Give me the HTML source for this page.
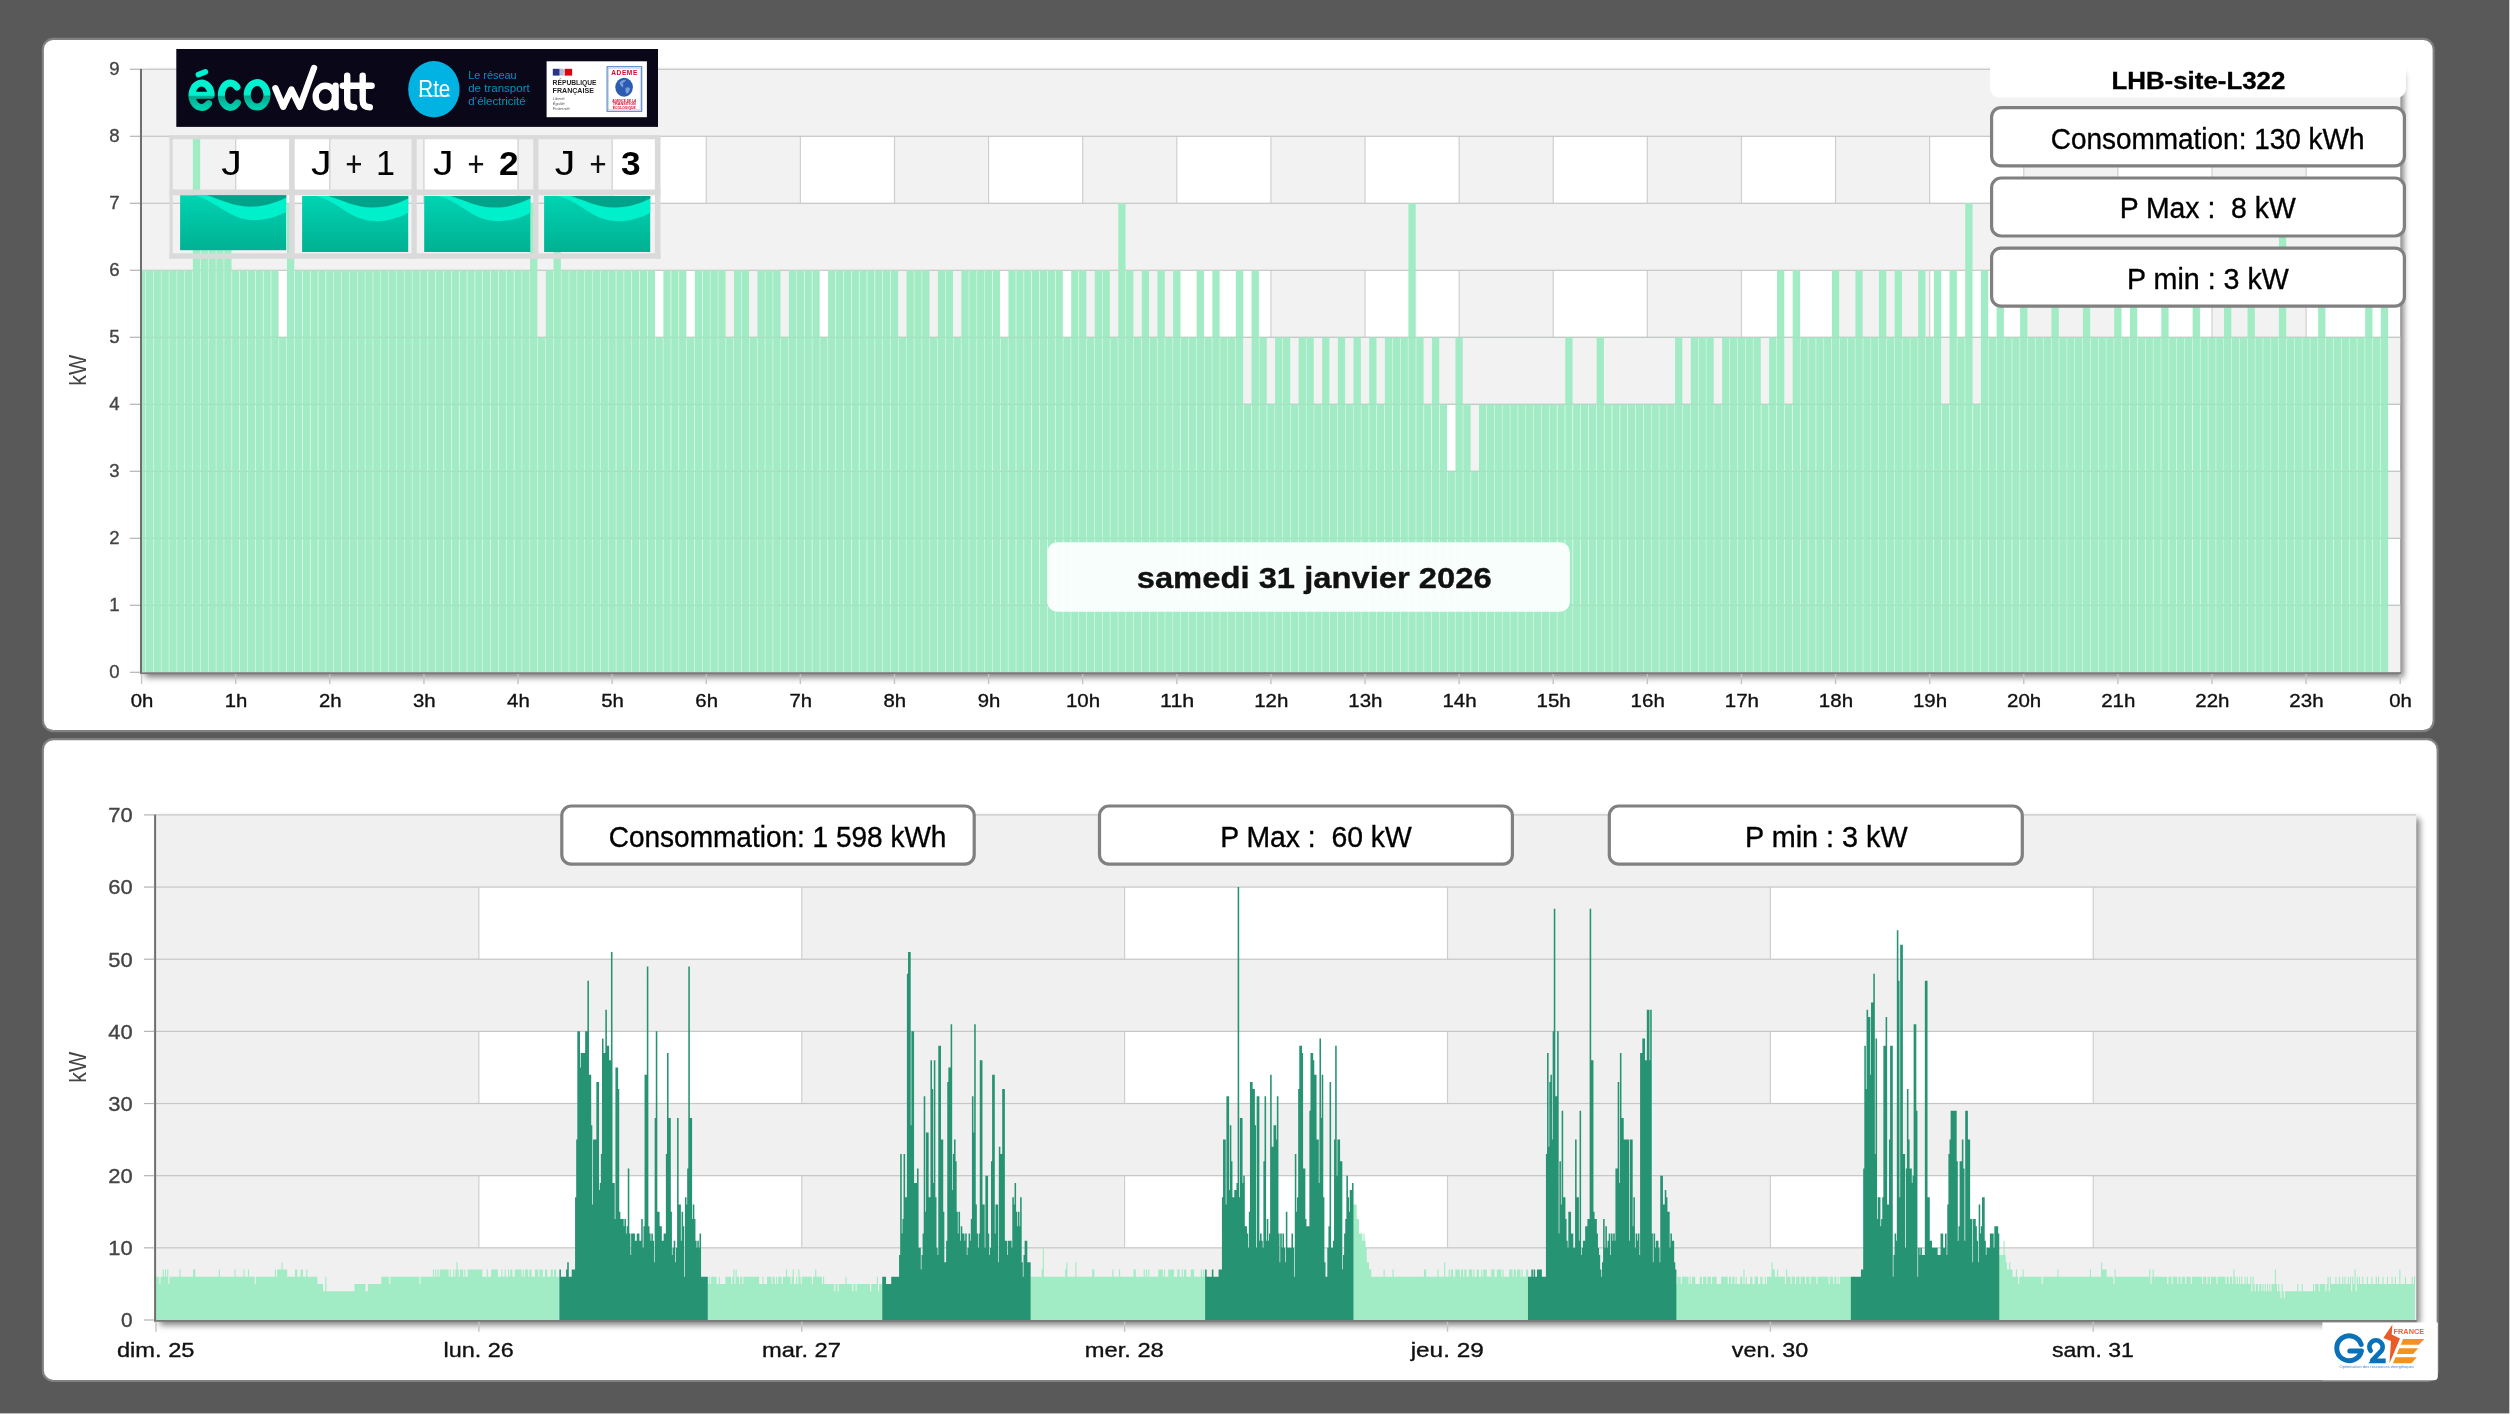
<!DOCTYPE html>
<html lang="fr"><head><meta charset="utf-8"><title>Suivi consommation</title>
<style>html,body{margin:0;padding:0;background:#fff;overflow:hidden}svg{display:block;will-change:transform;font-family:"Liberation Sans",sans-serif}text{font-family:"Liberation Sans",sans-serif}</style></head><body>
<svg width="2511" height="1415" viewBox="0 0 2511 1415">
<defs>
<clipPath id="ctop"><rect x="141.6" y="64.3" width="2258.6" height="608"/></clipPath>
<clipPath id="cbot"><rect x="156" y="809.9" width="2260.1" height="510.1"/></clipPath>
<linearGradient id="gtile" x1="0" y1="0" x2="0" y2="1"><stop offset="0" stop-color="#00d3b2"/><stop offset="1" stop-color="#00b192"/></linearGradient>
<linearGradient id="geco" x1="0" y1="0" x2="0" y2="1"><stop offset="0" stop-color="#00f2d0"/><stop offset="0.5" stop-color="#00efcd"/><stop offset="0.56" stop-color="#00a88e"/><stop offset="1" stop-color="#00cfae"/></linearGradient>
<filter id="sh" x="-2%" y="-5%" width="104%" height="110%"><feGaussianBlur stdDeviation="3.1"/></filter>
</defs>
<rect x="0" y="0" width="2509.3" height="1413.4" fill="#595959"/>
<rect x="41.8" y="37.8" width="2392.9" height="694.4" rx="11.6" fill="#818181"/>
<rect x="43.9" y="39.9" width="2388.7" height="690.2" rx="9.5" fill="#fff"/>
<rect x="41.8" y="738.1" width="2396.9" height="643.9" rx="11.6" fill="#818181"/>
<rect x="43.9" y="740.2" width="2392.7" height="639.7" rx="9.5" fill="#fff"/>
<rect x="145.2" y="72.9" width="2258.6" height="604.5" fill="#000" fill-opacity="0.5" filter="url(#sh)"/>
<rect x="141.6" y="69.3" width="2258.6" height="603" fill="#fff"/>
<rect x="141.6" y="69.3" width="94.11" height="603" fill="#f2f2f2"/>
<rect x="329.82" y="69.3" width="94.11" height="603" fill="#f2f2f2"/>
<rect x="518.03" y="69.3" width="94.11" height="603" fill="#f2f2f2"/>
<rect x="706.25" y="69.3" width="94.11" height="603" fill="#f2f2f2"/>
<rect x="894.47" y="69.3" width="94.11" height="603" fill="#f2f2f2"/>
<rect x="1082.68" y="69.3" width="94.11" height="603" fill="#f2f2f2"/>
<rect x="1270.9" y="69.3" width="94.11" height="603" fill="#f2f2f2"/>
<rect x="1459.12" y="69.3" width="94.11" height="603" fill="#f2f2f2"/>
<rect x="1647.33" y="69.3" width="94.11" height="603" fill="#f2f2f2"/>
<rect x="1835.55" y="69.3" width="94.11" height="603" fill="#f2f2f2"/>
<rect x="2023.77" y="69.3" width="94.11" height="603" fill="#f2f2f2"/>
<rect x="2211.98" y="69.3" width="94.11" height="603" fill="#f2f2f2"/>
<rect x="235.11" y="69.3" width="1.2" height="603" fill="#cfcfcf"/>
<rect x="329.22" y="69.3" width="1.2" height="603" fill="#cfcfcf"/>
<rect x="423.32" y="69.3" width="1.2" height="603" fill="#cfcfcf"/>
<rect x="517.43" y="69.3" width="1.2" height="603" fill="#cfcfcf"/>
<rect x="611.54" y="69.3" width="1.2" height="603" fill="#cfcfcf"/>
<rect x="705.65" y="69.3" width="1.2" height="603" fill="#cfcfcf"/>
<rect x="799.76" y="69.3" width="1.2" height="603" fill="#cfcfcf"/>
<rect x="893.87" y="69.3" width="1.2" height="603" fill="#cfcfcf"/>
<rect x="987.98" y="69.3" width="1.2" height="603" fill="#cfcfcf"/>
<rect x="1082.08" y="69.3" width="1.2" height="603" fill="#cfcfcf"/>
<rect x="1176.19" y="69.3" width="1.2" height="603" fill="#cfcfcf"/>
<rect x="1270.3" y="69.3" width="1.2" height="603" fill="#cfcfcf"/>
<rect x="1364.41" y="69.3" width="1.2" height="603" fill="#cfcfcf"/>
<rect x="1458.52" y="69.3" width="1.2" height="603" fill="#cfcfcf"/>
<rect x="1552.62" y="69.3" width="1.2" height="603" fill="#cfcfcf"/>
<rect x="1646.73" y="69.3" width="1.2" height="603" fill="#cfcfcf"/>
<rect x="1740.84" y="69.3" width="1.2" height="603" fill="#cfcfcf"/>
<rect x="1834.95" y="69.3" width="1.2" height="603" fill="#cfcfcf"/>
<rect x="1929.06" y="69.3" width="1.2" height="603" fill="#cfcfcf"/>
<rect x="2023.17" y="69.3" width="1.2" height="603" fill="#cfcfcf"/>
<rect x="2117.28" y="69.3" width="1.2" height="603" fill="#cfcfcf"/>
<rect x="2211.38" y="69.3" width="1.2" height="603" fill="#cfcfcf"/>
<rect x="2305.49" y="69.3" width="1.2" height="603" fill="#cfcfcf"/>
<rect x="141.6" y="605.3" width="2258.6" height="67" fill="#f2f2f2"/>
<rect x="141.6" y="471.3" width="2258.6" height="67" fill="#f2f2f2"/>
<rect x="141.6" y="337.3" width="2258.6" height="67" fill="#f2f2f2"/>
<rect x="141.6" y="203.3" width="2258.6" height="67" fill="#f2f2f2"/>
<rect x="141.6" y="69.3" width="2258.6" height="67" fill="#f2f2f2"/>
<rect x="141.6" y="604.7" width="2258.6" height="1.2" fill="#c6c6c6"/>
<rect x="141.6" y="537.7" width="2258.6" height="1.2" fill="#c6c6c6"/>
<rect x="141.6" y="470.7" width="2258.6" height="1.2" fill="#c6c6c6"/>
<rect x="141.6" y="403.7" width="2258.6" height="1.2" fill="#c6c6c6"/>
<rect x="141.6" y="336.7" width="2258.6" height="1.2" fill="#c6c6c6"/>
<rect x="141.6" y="269.7" width="2258.6" height="1.2" fill="#c6c6c6"/>
<rect x="141.6" y="202.7" width="2258.6" height="1.2" fill="#c6c6c6"/>
<rect x="141.6" y="135.7" width="2258.6" height="1.2" fill="#c6c6c6"/>
<rect x="141.6" y="68.7" width="2258.6" height="1.2" fill="#c6c6c6"/>
<g clip-path="url(#ctop)" fill="#a1ecc4">
<path d="M137.96 672.3V270.3H145.24V672.3ZM145.8 672.3V270.3H153.08V672.3ZM153.64 672.3V270.3H160.93V672.3ZM161.49 672.3V270.3H168.77V672.3ZM169.33 672.3V270.3H176.61V672.3ZM177.17 672.3V270.3H184.45V672.3ZM185.01 672.3V270.3H192.3V672.3ZM192.86 672.3V136.3H200.14V672.3ZM200.7 672.3V203.3H207.98V672.3ZM208.54 672.3V203.3H215.82V672.3ZM216.38 672.3V203.3H223.66V672.3ZM224.22 672.3V203.3H231.51V672.3ZM232.07 672.3V270.3H239.35V672.3ZM239.91 672.3V270.3H247.19V672.3ZM247.75 672.3V270.3H255.03V672.3ZM255.59 672.3V270.3H262.88V672.3ZM263.44 672.3V270.3H270.72V672.3ZM271.28 672.3V270.3H278.56V672.3ZM279.12 672.3V337.3H286.4V672.3ZM286.96 672.3V203.3H294.25V672.3ZM294.81 672.3V270.3H302.09V672.3ZM302.65 672.3V270.3H309.93V672.3ZM310.49 672.3V270.3H317.77V672.3ZM318.33 672.3V270.3H325.62V672.3ZM326.18 672.3V270.3H333.46V672.3ZM334.02 672.3V270.3H341.3V672.3ZM341.86 672.3V270.3H349.14V672.3ZM349.7 672.3V270.3H356.98V672.3ZM357.54 672.3V270.3H364.83V672.3ZM365.39 672.3V270.3H372.67V672.3ZM373.23 672.3V270.3H380.51V672.3ZM381.07 672.3V270.3H388.35V672.3ZM388.91 672.3V270.3H396.2V672.3ZM396.76 672.3V270.3H404.04V672.3ZM404.6 672.3V270.3H411.88V672.3ZM412.44 672.3V270.3H419.72V672.3ZM420.28 672.3V270.3H427.57V672.3ZM428.13 672.3V270.3H435.41V672.3ZM435.97 672.3V270.3H443.25V672.3ZM443.81 672.3V270.3H451.09V672.3ZM451.65 672.3V270.3H458.94V672.3ZM459.5 672.3V270.3H466.78V672.3ZM467.34 672.3V270.3H474.62V672.3ZM475.18 672.3V270.3H482.46V672.3ZM483.02 672.3V270.3H490.31V672.3ZM490.87 672.3V270.3H498.15V672.3ZM498.71 672.3V270.3H505.99V672.3ZM506.55 672.3V270.3H513.83V672.3ZM514.39 672.3V270.3H521.67V672.3ZM522.23 672.3V270.3H529.52V672.3ZM530.08 672.3V203.3H537.36V672.3ZM537.92 672.3V337.3H545.2V672.3ZM545.76 672.3V270.3H553.04V672.3ZM553.6 672.3V203.3H560.89V672.3ZM561.45 672.3V270.3H568.73V672.3ZM569.29 672.3V270.3H576.57V672.3ZM577.13 672.3V270.3H584.41V672.3ZM584.97 672.3V270.3H592.26V672.3ZM592.82 672.3V270.3H600.1V672.3ZM600.66 672.3V270.3H607.94V672.3ZM608.5 672.3V270.3H615.78V672.3ZM616.34 672.3V270.3H623.63V672.3ZM624.19 672.3V270.3H631.47V672.3ZM632.03 672.3V270.3H639.31V672.3ZM639.87 672.3V270.3H647.15V672.3ZM647.71 672.3V270.3H654.99V672.3ZM655.55 672.3V337.3H662.84V672.3ZM663.4 672.3V270.3H670.68V672.3ZM671.24 672.3V270.3H678.52V672.3ZM679.08 672.3V270.3H686.36V672.3ZM686.92 672.3V337.3H694.21V672.3ZM694.77 672.3V270.3H702.05V672.3ZM702.61 672.3V270.3H709.89V672.3ZM710.45 672.3V270.3H717.73V672.3ZM718.29 672.3V270.3H725.58V672.3ZM726.14 672.3V337.3H733.42V672.3ZM733.98 672.3V270.3H741.26V672.3ZM741.82 672.3V270.3H749.1V672.3ZM749.66 672.3V337.3H756.95V672.3ZM757.51 672.3V270.3H764.79V672.3ZM765.35 672.3V270.3H772.63V672.3ZM773.19 672.3V270.3H780.47V672.3ZM781.03 672.3V337.3H788.31V672.3ZM788.87 672.3V270.3H796.16V672.3ZM796.72 672.3V270.3H804V672.3ZM804.56 672.3V270.3H811.84V672.3ZM812.4 672.3V270.3H819.68V672.3ZM820.24 672.3V337.3H827.53V672.3ZM828.09 672.3V270.3H835.37V672.3ZM835.93 672.3V270.3H843.21V672.3ZM843.77 672.3V270.3H851.05V672.3ZM851.61 672.3V270.3H858.9V672.3ZM859.46 672.3V270.3H866.74V672.3ZM867.3 672.3V270.3H874.58V672.3ZM875.14 672.3V270.3H882.42V672.3ZM882.98 672.3V270.3H890.27V672.3ZM890.83 672.3V270.3H898.11V672.3ZM898.67 672.3V337.3H905.95V672.3ZM906.51 672.3V270.3H913.79V672.3ZM914.35 672.3V270.3H921.63V672.3ZM922.19 672.3V270.3H929.48V672.3ZM930.04 672.3V337.3H937.32V672.3ZM937.88 672.3V270.3H945.16V672.3ZM945.72 672.3V270.3H953V672.3ZM953.56 672.3V337.3H960.85V672.3ZM961.41 672.3V270.3H968.69V672.3ZM969.25 672.3V270.3H976.53V672.3ZM977.09 672.3V270.3H984.37V672.3ZM984.93 672.3V270.3H992.22V672.3ZM992.78 672.3V270.3H1000.06V672.3ZM1000.62 672.3V337.3H1007.9V672.3ZM1008.46 672.3V270.3H1015.74V672.3ZM1016.3 672.3V270.3H1023.59V672.3ZM1024.15 672.3V270.3H1031.43V672.3ZM1031.99 672.3V270.3H1039.27V672.3ZM1039.83 672.3V270.3H1047.11V672.3ZM1047.67 672.3V270.3H1054.96V672.3ZM1055.52 672.3V270.3H1062.8V672.3ZM1063.36 672.3V337.3H1070.64V672.3ZM1071.2 672.3V270.3H1078.48V672.3ZM1079.04 672.3V270.3H1086.32V672.3ZM1086.88 672.3V337.3H1094.17V672.3ZM1094.73 672.3V270.3H1102.01V672.3ZM1102.57 672.3V270.3H1109.85V672.3ZM1110.41 672.3V337.3H1117.69V672.3ZM1118.25 672.3V203.3H1125.54V672.3ZM1126.1 672.3V270.3H1133.38V672.3ZM1133.94 672.3V337.3H1141.22V672.3ZM1141.78 672.3V270.3H1149.06V672.3ZM1149.62 672.3V337.3H1156.91V672.3ZM1157.47 672.3V270.3H1164.75V672.3ZM1165.31 672.3V337.3H1172.59V672.3ZM1173.15 672.3V270.3H1180.43V672.3ZM1180.99 672.3V337.3H1188.28V672.3ZM1188.84 672.3V337.3H1196.12V672.3ZM1196.68 672.3V270.3H1203.96V672.3ZM1204.52 672.3V337.3H1211.8V672.3ZM1212.36 672.3V270.3H1219.64V672.3ZM1220.2 672.3V337.3H1227.49V672.3ZM1228.05 672.3V337.3H1235.33V672.3ZM1235.89 672.3V270.3H1243.17V672.3ZM1243.73 672.3V404.3H1251.01V672.3ZM1251.57 672.3V270.3H1258.86V672.3ZM1259.42 672.3V337.3H1266.7V672.3ZM1267.26 672.3V404.3H1274.54V672.3ZM1275.1 672.3V337.3H1282.38V672.3ZM1282.94 672.3V337.3H1290.23V672.3ZM1290.79 672.3V404.3H1298.07V672.3ZM1298.63 672.3V337.3H1305.91V672.3ZM1306.47 672.3V337.3H1313.75V672.3ZM1314.31 672.3V404.3H1321.6V672.3ZM1322.16 672.3V337.3H1329.44V672.3ZM1330 672.3V404.3H1337.28V672.3ZM1337.84 672.3V337.3H1345.12V672.3ZM1345.68 672.3V404.3H1352.96V672.3ZM1353.52 672.3V337.3H1360.81V672.3ZM1361.37 672.3V404.3H1368.65V672.3ZM1369.21 672.3V337.3H1376.49V672.3ZM1377.05 672.3V404.3H1384.33V672.3ZM1384.89 672.3V337.3H1392.18V672.3ZM1392.74 672.3V337.3H1400.02V672.3ZM1400.58 672.3V337.3H1407.86V672.3ZM1408.42 672.3V203.3H1415.7V672.3ZM1416.26 672.3V337.3H1423.55V672.3ZM1424.11 672.3V404.3H1431.39V672.3ZM1431.95 672.3V337.3H1439.23V672.3ZM1439.79 672.3V404.3H1447.07V672.3ZM1447.63 672.3V471.3H1454.92V672.3ZM1455.48 672.3V337.3H1462.76V672.3ZM1463.32 672.3V404.3H1470.6V672.3ZM1471.16 672.3V471.3H1478.44V672.3ZM1479 672.3V404.3H1486.28V672.3ZM1486.84 672.3V404.3H1494.13V672.3ZM1494.69 672.3V404.3H1501.97V672.3ZM1502.53 672.3V404.3H1509.81V672.3ZM1510.37 672.3V404.3H1517.65V672.3ZM1518.21 672.3V404.3H1525.5V672.3ZM1526.06 672.3V404.3H1533.34V672.3ZM1533.9 672.3V404.3H1541.18V672.3ZM1541.74 672.3V404.3H1549.02V672.3ZM1549.58 672.3V404.3H1556.87V672.3ZM1557.43 672.3V404.3H1564.71V672.3ZM1565.27 672.3V337.3H1572.55V672.3ZM1573.11 672.3V404.3H1580.39V672.3ZM1580.95 672.3V404.3H1588.24V672.3ZM1588.8 672.3V404.3H1596.08V672.3ZM1596.64 672.3V337.3H1603.92V672.3ZM1604.48 672.3V404.3H1611.76V672.3ZM1612.32 672.3V404.3H1619.61V672.3ZM1620.17 672.3V404.3H1627.45V672.3ZM1628.01 672.3V404.3H1635.29V672.3ZM1635.85 672.3V404.3H1643.13V672.3ZM1643.69 672.3V404.3H1650.97V672.3ZM1651.53 672.3V404.3H1658.82V672.3ZM1659.38 672.3V404.3H1666.66V672.3ZM1667.22 672.3V404.3H1674.5V672.3ZM1675.06 672.3V337.3H1682.34V672.3ZM1682.9 672.3V404.3H1690.19V672.3ZM1690.75 672.3V337.3H1698.03V672.3ZM1698.59 672.3V337.3H1705.87V672.3ZM1706.43 672.3V337.3H1713.71V672.3ZM1714.27 672.3V404.3H1721.56V672.3ZM1722.12 672.3V337.3H1729.4V672.3ZM1729.96 672.3V337.3H1737.24V672.3ZM1737.8 672.3V337.3H1745.08V672.3ZM1745.64 672.3V337.3H1752.93V672.3ZM1753.49 672.3V337.3H1760.77V672.3ZM1761.33 672.3V404.3H1768.61V672.3ZM1769.17 672.3V337.3H1776.45V672.3ZM1777.01 672.3V270.3H1784.29V672.3ZM1784.85 672.3V404.3H1792.14V672.3ZM1792.7 672.3V270.3H1799.98V672.3ZM1800.54 672.3V337.3H1807.82V672.3ZM1808.38 672.3V337.3H1815.66V672.3ZM1816.22 672.3V337.3H1823.51V672.3ZM1824.07 672.3V337.3H1831.35V672.3ZM1831.91 672.3V270.3H1839.19V672.3ZM1839.75 672.3V337.3H1847.03V672.3ZM1847.59 672.3V337.3H1854.88V672.3ZM1855.44 672.3V270.3H1862.72V672.3ZM1863.28 672.3V337.3H1870.56V672.3ZM1871.12 672.3V337.3H1878.4V672.3ZM1878.96 672.3V270.3H1886.25V672.3ZM1886.81 672.3V337.3H1894.09V672.3ZM1894.65 672.3V270.3H1901.93V672.3ZM1902.49 672.3V337.3H1909.77V672.3ZM1910.33 672.3V337.3H1917.61V672.3ZM1918.17 672.3V270.3H1925.46V672.3ZM1926.02 672.3V337.3H1933.3V672.3ZM1933.86 672.3V270.3H1941.14V672.3ZM1941.7 672.3V404.3H1948.98V672.3ZM1949.54 672.3V270.3H1956.83V672.3ZM1957.39 672.3V337.3H1964.67V672.3ZM1965.23 672.3V203.3H1972.51V672.3ZM1973.07 672.3V404.3H1980.35V672.3ZM1980.91 672.3V270.3H1988.2V672.3ZM1988.76 672.3V337.3H1996.04V672.3ZM1996.6 672.3V270.3H2003.88V672.3ZM2004.44 672.3V337.3H2011.72V672.3ZM2012.28 672.3V337.3H2019.57V672.3ZM2020.13 672.3V270.3H2027.41V672.3ZM2027.97 672.3V337.3H2035.25V672.3ZM2035.81 672.3V337.3H2043.09V672.3ZM2043.65 672.3V337.3H2050.93V672.3ZM2051.49 672.3V270.3H2058.78V672.3ZM2059.34 672.3V337.3H2066.62V672.3ZM2067.18 672.3V337.3H2074.46V672.3ZM2075.02 672.3V337.3H2082.3V672.3ZM2082.86 672.3V270.3H2090.15V672.3ZM2090.71 672.3V337.3H2097.99V672.3ZM2098.55 672.3V337.3H2105.83V672.3ZM2106.39 672.3V337.3H2113.67V672.3ZM2114.23 672.3V270.3H2121.52V672.3ZM2122.08 672.3V337.3H2129.36V672.3ZM2129.92 672.3V270.3H2137.2V672.3ZM2137.76 672.3V337.3H2145.04V672.3ZM2145.6 672.3V337.3H2152.89V672.3ZM2153.45 672.3V337.3H2160.73V672.3ZM2161.29 672.3V270.3H2168.57V672.3ZM2169.13 672.3V337.3H2176.41V672.3ZM2176.97 672.3V337.3H2184.26V672.3ZM2184.82 672.3V337.3H2192.1V672.3ZM2192.66 672.3V270.3H2199.94V672.3ZM2200.5 672.3V337.3H2207.78V672.3ZM2208.34 672.3V337.3H2215.62V672.3ZM2216.18 672.3V337.3H2223.47V672.3ZM2224.03 672.3V270.3H2231.31V672.3ZM2231.87 672.3V337.3H2239.15V672.3ZM2239.71 672.3V337.3H2246.99V672.3ZM2247.55 672.3V270.3H2254.84V672.3ZM2255.4 672.3V337.3H2262.68V672.3ZM2263.24 672.3V337.3H2270.52V672.3ZM2271.08 672.3V337.3H2278.36V672.3ZM2278.92 672.3V203.3H2286.21V672.3ZM2286.77 672.3V337.3H2294.05V672.3ZM2294.61 672.3V337.3H2301.89V672.3ZM2302.45 672.3V337.3H2309.73V672.3ZM2310.29 672.3V337.3H2317.58V672.3ZM2318.14 672.3V270.3H2325.42V672.3ZM2325.98 672.3V337.3H2333.26V672.3ZM2333.82 672.3V337.3H2341.1V672.3ZM2341.66 672.3V337.3H2348.94V672.3ZM2349.5 672.3V337.3H2356.79V672.3ZM2357.35 672.3V337.3H2364.63V672.3ZM2365.19 672.3V270.3H2372.47V672.3ZM2373.03 672.3V337.3H2380.31V672.3ZM2380.87 672.3V270.3H2388.16V672.3Z"/>
</g>
<rect x="141.6" y="604.7" width="2258.6" height="1.2" fill="#9fc9b4" opacity="0.25"/>
<rect x="141.6" y="537.7" width="2258.6" height="1.2" fill="#9fc9b4" opacity="0.25"/>
<rect x="141.6" y="470.7" width="2258.6" height="1.2" fill="#9fc9b4" opacity="0.25"/>
<rect x="141.6" y="403.7" width="2258.6" height="1.2" fill="#9fc9b4" opacity="0.25"/>
<rect x="141.6" y="336.7" width="2258.6" height="1.2" fill="#9fc9b4" opacity="0.25"/>
<rect x="140" y="68.8" width="2" height="605.1" fill="#6f6f6f"/>
<rect x="140" y="672.3" width="2261" height="1.8" fill="#7a7a7a"/>
<rect x="129.8" y="671.7" width="10.2" height="1.2" fill="#b4b4b4"/>
<text x="119.6" y="678" font-size="18.6" text-anchor="end" fill="#444" stroke="#444" stroke-width="0.35" >0</text>
<rect x="129.8" y="604.7" width="10.2" height="1.2" fill="#b4b4b4"/>
<text x="119.6" y="611" font-size="18.6" text-anchor="end" fill="#444" stroke="#444" stroke-width="0.35" >1</text>
<rect x="129.8" y="537.7" width="10.2" height="1.2" fill="#b4b4b4"/>
<text x="119.6" y="544" font-size="18.6" text-anchor="end" fill="#444" stroke="#444" stroke-width="0.35" >2</text>
<rect x="129.8" y="470.7" width="10.2" height="1.2" fill="#b4b4b4"/>
<text x="119.6" y="477" font-size="18.6" text-anchor="end" fill="#444" stroke="#444" stroke-width="0.35" >3</text>
<rect x="129.8" y="403.7" width="10.2" height="1.2" fill="#b4b4b4"/>
<text x="119.6" y="410" font-size="18.6" text-anchor="end" fill="#444" stroke="#444" stroke-width="0.35" >4</text>
<rect x="129.8" y="336.7" width="10.2" height="1.2" fill="#b4b4b4"/>
<text x="119.6" y="343" font-size="18.6" text-anchor="end" fill="#444" stroke="#444" stroke-width="0.35" >5</text>
<rect x="129.8" y="269.7" width="10.2" height="1.2" fill="#b4b4b4"/>
<text x="119.6" y="276" font-size="18.6" text-anchor="end" fill="#444" stroke="#444" stroke-width="0.35" >6</text>
<rect x="129.8" y="202.7" width="10.2" height="1.2" fill="#b4b4b4"/>
<text x="119.6" y="209" font-size="18.6" text-anchor="end" fill="#444" stroke="#444" stroke-width="0.35" >7</text>
<rect x="129.8" y="135.7" width="10.2" height="1.2" fill="#b4b4b4"/>
<text x="119.6" y="142" font-size="18.6" text-anchor="end" fill="#444" stroke="#444" stroke-width="0.35" >8</text>
<rect x="129.8" y="68.7" width="10.2" height="1.2" fill="#b4b4b4"/>
<text x="119.6" y="75" font-size="18.6" text-anchor="end" fill="#444" stroke="#444" stroke-width="0.35" >9</text>
<rect x="140.9" y="674.1" width="1.4" height="10" fill="#c4c4c4"/>
<text x="142" y="707.4" font-size="18.6" text-anchor="middle" fill="#111" textLength="22.6" lengthAdjust="spacingAndGlyphs" stroke="#111" stroke-width="0.35" >0h</text>
<rect x="235.01" y="674.1" width="1.4" height="10" fill="#c4c4c4"/>
<text x="236.11" y="707.4" font-size="18.6" text-anchor="middle" fill="#111" textLength="22.6" lengthAdjust="spacingAndGlyphs" stroke="#111" stroke-width="0.35" >1h</text>
<rect x="329.12" y="674.1" width="1.4" height="10" fill="#c4c4c4"/>
<text x="330.22" y="707.4" font-size="18.6" text-anchor="middle" fill="#111" textLength="22.6" lengthAdjust="spacingAndGlyphs" stroke="#111" stroke-width="0.35" >2h</text>
<rect x="423.22" y="674.1" width="1.4" height="10" fill="#c4c4c4"/>
<text x="424.32" y="707.4" font-size="18.6" text-anchor="middle" fill="#111" textLength="22.6" lengthAdjust="spacingAndGlyphs" stroke="#111" stroke-width="0.35" >3h</text>
<rect x="517.33" y="674.1" width="1.4" height="10" fill="#c4c4c4"/>
<text x="518.43" y="707.4" font-size="18.6" text-anchor="middle" fill="#111" textLength="22.6" lengthAdjust="spacingAndGlyphs" stroke="#111" stroke-width="0.35" >4h</text>
<rect x="611.44" y="674.1" width="1.4" height="10" fill="#c4c4c4"/>
<text x="612.54" y="707.4" font-size="18.6" text-anchor="middle" fill="#111" textLength="22.6" lengthAdjust="spacingAndGlyphs" stroke="#111" stroke-width="0.35" >5h</text>
<rect x="705.55" y="674.1" width="1.4" height="10" fill="#c4c4c4"/>
<text x="706.65" y="707.4" font-size="18.6" text-anchor="middle" fill="#111" textLength="22.6" lengthAdjust="spacingAndGlyphs" stroke="#111" stroke-width="0.35" >6h</text>
<rect x="799.66" y="674.1" width="1.4" height="10" fill="#c4c4c4"/>
<text x="800.76" y="707.4" font-size="18.6" text-anchor="middle" fill="#111" textLength="22.6" lengthAdjust="spacingAndGlyphs" stroke="#111" stroke-width="0.35" >7h</text>
<rect x="893.77" y="674.1" width="1.4" height="10" fill="#c4c4c4"/>
<text x="894.87" y="707.4" font-size="18.6" text-anchor="middle" fill="#111" textLength="22.6" lengthAdjust="spacingAndGlyphs" stroke="#111" stroke-width="0.35" >8h</text>
<rect x="987.88" y="674.1" width="1.4" height="10" fill="#c4c4c4"/>
<text x="988.98" y="707.4" font-size="18.6" text-anchor="middle" fill="#111" textLength="22.6" lengthAdjust="spacingAndGlyphs" stroke="#111" stroke-width="0.35" >9h</text>
<rect x="1081.98" y="674.1" width="1.4" height="10" fill="#c4c4c4"/>
<text x="1083.08" y="707.4" font-size="18.6" text-anchor="middle" fill="#111" textLength="34.2" lengthAdjust="spacingAndGlyphs" stroke="#111" stroke-width="0.35" >10h</text>
<rect x="1176.09" y="674.1" width="1.4" height="10" fill="#c4c4c4"/>
<text x="1177.19" y="707.4" font-size="18.6" text-anchor="middle" fill="#111" textLength="34.2" lengthAdjust="spacingAndGlyphs" stroke="#111" stroke-width="0.35" >11h</text>
<rect x="1270.2" y="674.1" width="1.4" height="10" fill="#c4c4c4"/>
<text x="1271.3" y="707.4" font-size="18.6" text-anchor="middle" fill="#111" textLength="34.2" lengthAdjust="spacingAndGlyphs" stroke="#111" stroke-width="0.35" >12h</text>
<rect x="1364.31" y="674.1" width="1.4" height="10" fill="#c4c4c4"/>
<text x="1365.41" y="707.4" font-size="18.6" text-anchor="middle" fill="#111" textLength="34.2" lengthAdjust="spacingAndGlyphs" stroke="#111" stroke-width="0.35" >13h</text>
<rect x="1458.42" y="674.1" width="1.4" height="10" fill="#c4c4c4"/>
<text x="1459.52" y="707.4" font-size="18.6" text-anchor="middle" fill="#111" textLength="34.2" lengthAdjust="spacingAndGlyphs" stroke="#111" stroke-width="0.35" >14h</text>
<rect x="1552.52" y="674.1" width="1.4" height="10" fill="#c4c4c4"/>
<text x="1553.62" y="707.4" font-size="18.6" text-anchor="middle" fill="#111" textLength="34.2" lengthAdjust="spacingAndGlyphs" stroke="#111" stroke-width="0.35" >15h</text>
<rect x="1646.63" y="674.1" width="1.4" height="10" fill="#c4c4c4"/>
<text x="1647.73" y="707.4" font-size="18.6" text-anchor="middle" fill="#111" textLength="34.2" lengthAdjust="spacingAndGlyphs" stroke="#111" stroke-width="0.35" >16h</text>
<rect x="1740.74" y="674.1" width="1.4" height="10" fill="#c4c4c4"/>
<text x="1741.84" y="707.4" font-size="18.6" text-anchor="middle" fill="#111" textLength="34.2" lengthAdjust="spacingAndGlyphs" stroke="#111" stroke-width="0.35" >17h</text>
<rect x="1834.85" y="674.1" width="1.4" height="10" fill="#c4c4c4"/>
<text x="1835.95" y="707.4" font-size="18.6" text-anchor="middle" fill="#111" textLength="34.2" lengthAdjust="spacingAndGlyphs" stroke="#111" stroke-width="0.35" >18h</text>
<rect x="1928.96" y="674.1" width="1.4" height="10" fill="#c4c4c4"/>
<text x="1930.06" y="707.4" font-size="18.6" text-anchor="middle" fill="#111" textLength="34.2" lengthAdjust="spacingAndGlyphs" stroke="#111" stroke-width="0.35" >19h</text>
<rect x="2023.07" y="674.1" width="1.4" height="10" fill="#c4c4c4"/>
<text x="2024.17" y="707.4" font-size="18.6" text-anchor="middle" fill="#111" textLength="34.2" lengthAdjust="spacingAndGlyphs" stroke="#111" stroke-width="0.35" >20h</text>
<rect x="2117.18" y="674.1" width="1.4" height="10" fill="#c4c4c4"/>
<text x="2118.28" y="707.4" font-size="18.6" text-anchor="middle" fill="#111" textLength="34.2" lengthAdjust="spacingAndGlyphs" stroke="#111" stroke-width="0.35" >21h</text>
<rect x="2211.28" y="674.1" width="1.4" height="10" fill="#c4c4c4"/>
<text x="2212.38" y="707.4" font-size="18.6" text-anchor="middle" fill="#111" textLength="34.2" lengthAdjust="spacingAndGlyphs" stroke="#111" stroke-width="0.35" >22h</text>
<rect x="2305.39" y="674.1" width="1.4" height="10" fill="#c4c4c4"/>
<text x="2306.49" y="707.4" font-size="18.6" text-anchor="middle" fill="#111" textLength="34.2" lengthAdjust="spacingAndGlyphs" stroke="#111" stroke-width="0.35" >23h</text>
<rect x="2399.5" y="674.1" width="1.4" height="10" fill="#c4c4c4"/>
<text x="2400.6" y="707.4" font-size="18.6" text-anchor="middle" fill="#111" textLength="22.6" lengthAdjust="spacingAndGlyphs" stroke="#111" stroke-width="0.35" >0h</text>
<text transform="translate(86.2 370.2) rotate(-90)" font-size="23.2" text-anchor="middle" fill="#444" textLength="31" lengthAdjust="spacingAndGlyphs">kW</text>
<g id="eco"><rect x="176.3" y="49" width="481.7" height="77.9" fill="#0a0818"/><g fill="none" stroke="url(#geco)" stroke-width="7" stroke-linecap="round" stroke-linejoin="round"><path d="M192.6 95.3H211.2A9.6 12.2 0 1 0 208.6 103.6"/><path d="M237 87A9 12.2 0 1 0 237.4 102.8"/><ellipse cx="257.1" cy="94.8" rx="9.9" ry="12.2"/></g><path d="M198.4 74.6L205.4 71.8" stroke="#00f2d0" stroke-width="5.6" stroke-linecap="round" fill="none"/><g fill="none" stroke="#fff" stroke-width="6.4" stroke-linecap="round" stroke-linejoin="round"><path d="M275.4 88.2L283.2 106.8L291.4 89.5L299.8 106.8L314 68"/><ellipse cx="325.3" cy="96.5" rx="9.6" ry="10.8"/><path d="M335.6 85.8V107.2"/><path d="M347.2 75.6V100.5Q347.2 107.2 354.2 107.2"/><path d="M362.7 75.6V100.5Q362.7 107.2 369.8 107.2"/><path d="M342.8 85.8H371.6"/></g><ellipse cx="433.9" cy="89.2" rx="25.7" ry="28.2" fill="#00b3e3"/><text x="434.3" y="96.6" font-size="24.5" text-anchor="middle" fill="#fff" textLength="32" lengthAdjust="spacingAndGlyphs">Rte</text><rect x="419" y="95.3" width="31" height="1.2" fill="#fff" opacity="0.9"/><text x="468.2" y="79.2" font-size="11.6" fill="#0091c6" textLength="48.5" lengthAdjust="spacingAndGlyphs">Le réseau</text><text x="468.2" y="92.3" font-size="11.6" fill="#0091c6" textLength="61.5" lengthAdjust="spacingAndGlyphs">de transport</text><text x="468.2" y="105.4" font-size="11.6" fill="#0091c6" textLength="57.5" lengthAdjust="spacingAndGlyphs">d’électricité</text><rect x="546.6" y="61.3" width="100.3" height="55.9" fill="#fff"/><rect x="552.8" y="68.8" width="6.8" height="6.8" fill="#28348a"/><rect x="564.7" y="68.8" width="7.4" height="6.8" fill="#e1000f"/><path d="M559.6 68.8h3.5l1.6 2.2l-1.2 2.2l1.2 2.4h-5.1z" fill="#7a80b5" opacity="0.55"/><text x="552.6" y="84.7" font-size="8.1" font-weight="bold" fill="#1e1e1e" textLength="44" lengthAdjust="spacingAndGlyphs">RÉPUBLIQUE</text><text x="552.6" y="92.9" font-size="8.1" font-weight="bold" fill="#1e1e1e" textLength="41.3" lengthAdjust="spacingAndGlyphs">FRANÇAISE</text><text x="552.8" y="100.3" font-size="4.2" font-style="italic" fill="#555" textLength="12" lengthAdjust="spacingAndGlyphs">Liberté</text><text x="552.8" y="105.3" font-size="4.2" font-style="italic" fill="#555" textLength="12" lengthAdjust="spacingAndGlyphs">Égalité</text><text x="552.8" y="110.3" font-size="4.2" font-style="italic" fill="#555" textLength="17" lengthAdjust="spacingAndGlyphs">Fraternité</text><rect x="607.1" y="66.7" width="34.6" height="44.6" fill="#fff" stroke="#4f7fc4" stroke-width="1.1"/><rect x="608.6" y="68.2" width="31.6" height="41.6" fill="none" stroke="#a9c0e3" stroke-width="0.6"/><text x="624.3" y="74.9" font-size="6.6" font-weight="bold" text-anchor="middle" fill="#e4032e" textLength="26" lengthAdjust="spacing">ADEME</text><ellipse cx="624.1" cy="87.3" rx="8.8" ry="9.5" fill="#2c5cb2"/><path d="M619.5 82.5q3-3.5 6.5-2.5q-1.5 2.5-3.5 3q1.5 2 .5 4.5q-2.5-1-3.5-5z M625.5 88q3-1.5 4.5 .5q-.5 4-3.5 5.5q-1.5-3-1-6z" fill="#8fb0e0" opacity="0.8"/><text x="624.3" y="101.7" font-size="3" font-weight="bold" text-anchor="middle" fill="#e4032e" textLength="24" lengthAdjust="spacingAndGlyphs">AGENCE DE LA</text><text x="624.3" y="105.4" font-size="3" font-weight="bold" text-anchor="middle" fill="#e4032e" textLength="23" lengthAdjust="spacingAndGlyphs">TRANSITION</text><text x="624.3" y="109.1" font-size="3" font-weight="bold" text-anchor="middle" fill="#e4032e" textLength="23" lengthAdjust="spacingAndGlyphs">ÉCOLOGIQUE</text><g fill="#dadada"><rect x="169.5" y="135.3" width="491" height="4"/><rect x="169.5" y="253.3" width="491" height="5.5"/><rect x="169.5" y="135.3" width="3.2" height="123.5"/><rect x="654.9" y="135.3" width="5.6" height="123.5"/><rect x="289.1" y="135.3" width="5.6" height="123.5"/><rect x="411.5" y="135.3" width="5.2" height="123.5"/><rect x="533.2" y="135.3" width="5.2" height="123.5"/><rect x="169.5" y="189.5" width="491" height="5.8"/></g><g transform="translate(180.1 195.3) scale(1 0.98)"><rect width="106.1" height="56" fill="url(#gtile)"/><path d="M13.2 0C31 3 44 19 62 23.6C76 27.2 92 24.5 106.1 16.7V0Z" fill="#00f0cc"/><path d="M26.6 0C40 4 52 11.2 70 11.6C84 11.9 96 7.5 106.1 2.6V0Z" fill="#00a389"/></g><g transform="translate(302.1 196) scale(1 1)"><rect width="106.1" height="56" fill="url(#gtile)"/><path d="M13.2 0C31 3 44 19 62 23.6C76 27.2 92 24.5 106.1 16.7V0Z" fill="#00f0cc"/><path d="M26.6 0C40 4 52 11.2 70 11.6C84 11.9 96 7.5 106.1 2.6V0Z" fill="#00a389"/></g><g transform="translate(424.2 196) scale(1 1)"><rect width="106.1" height="56" fill="url(#gtile)"/><path d="M13.2 0C31 3 44 19 62 23.6C76 27.2 92 24.5 106.1 16.7V0Z" fill="#00f0cc"/><path d="M26.6 0C40 4 52 11.2 70 11.6C84 11.9 96 7.5 106.1 2.6V0Z" fill="#00a389"/></g><g transform="translate(544.1 196) scale(1 1)"><rect width="106.1" height="56" fill="url(#gtile)"/><path d="M13.2 0C31 3 44 19 62 23.6C76 27.2 92 24.5 106.1 16.7V0Z" fill="#00f0cc"/><path d="M26.6 0C40 4 52 11.2 70 11.6C84 11.9 96 7.5 106.1 2.6V0Z" fill="#00a389"/></g><text x="231.5" y="175" font-size="34.3" text-anchor="middle" fill="#000" textLength="20.6" lengthAdjust="spacingAndGlyphs">J</text><text x="321.2" y="175" font-size="34.3" text-anchor="middle" fill="#000" textLength="20.6" lengthAdjust="spacingAndGlyphs">J</text><rect x="346.8" y="163" width="14.2" height="2.4" fill="#111"/><rect x="352.7" y="155.4" width="2.4" height="17.6" fill="#111"/><text x="385.6" y="175" font-size="34.3" text-anchor="middle" fill="#000" textLength="19" lengthAdjust="spacingAndGlyphs">1</text><text x="443.2" y="175" font-size="34.3" text-anchor="middle" fill="#000" textLength="20.6" lengthAdjust="spacingAndGlyphs">J</text><rect x="468.9" y="163" width="14.2" height="2.4" fill="#111"/><rect x="474.8" y="155.4" width="2.4" height="17.6" fill="#111"/><text x="508.9" y="175" font-size="34" font-weight="bold" text-anchor="middle" fill="#000" textLength="19.6" lengthAdjust="spacingAndGlyphs">2</text><text x="565" y="175" font-size="34.3" text-anchor="middle" fill="#000" textLength="20.6" lengthAdjust="spacingAndGlyphs">J</text><rect x="590.9" y="163" width="14.2" height="2.4" fill="#111"/><rect x="596.8" y="155.4" width="2.4" height="17.6" fill="#111"/><text x="630.8" y="175" font-size="34" font-weight="bold" text-anchor="middle" fill="#000" textLength="19.6" lengthAdjust="spacingAndGlyphs">3</text></g>
<rect x="1047.3" y="542.2" width="522.6" height="69.6" rx="10" fill="#fff" fill-opacity="0.93"/>
<text x="1314.2" y="588.2" font-size="30" text-anchor="middle" fill="#111" font-weight="bold" textLength="355" lengthAdjust="spacingAndGlyphs" stroke="#111" stroke-width="0.35" >samedi 31 janvier 2026</text>
<rect x="1990" y="60" width="416" height="37.6" rx="9" fill="#fff"/>
<rect x="1990" y="60" width="416" height="20" fill="#fff"/>
<text x="2198.4" y="88.8" font-size="24" text-anchor="middle" fill="#000" font-weight="bold" textLength="174" lengthAdjust="spacingAndGlyphs" stroke="#000" stroke-width="0.35" >LHB-site-L322</text>
<rect x="1991.6" y="107.6" width="412.8" height="58.2" rx="9.5" fill="#fff" stroke="#808080" stroke-width="3.2"/>
<text x="2207.6" y="148.5" font-size="29" text-anchor="middle" fill="#000" textLength="313.7" lengthAdjust="spacingAndGlyphs" stroke="#000" stroke-width="0.35" >Consommation: 130 kWh</text>
<rect x="1991.6" y="178" width="412.8" height="58" rx="9.5" fill="#fff" stroke="#808080" stroke-width="3.2"/>
<text x="2207.7" y="218.2" font-size="29" text-anchor="middle" fill="#000" textLength="176.1" lengthAdjust="spacingAndGlyphs" stroke="#000" stroke-width="0.35" >P Max :&#160; 8 kW</text>
<rect x="1991.6" y="248.1" width="412.8" height="58.1" rx="9.5" fill="#fff" stroke="#808080" stroke-width="3.2"/>
<text x="2207.95" y="288.5" font-size="29" text-anchor="middle" fill="#000" textLength="161.8" lengthAdjust="spacingAndGlyphs" stroke="#000" stroke-width="0.35" >P min : 3 kW</text>
<rect x="159.6" y="818.5" width="2260.1" height="506.6" fill="#000" fill-opacity="0.5" filter="url(#sh)"/>
<rect x="156" y="814.9" width="2260.1" height="505.1" fill="#fff"/>
<rect x="156" y="814.9" width="322.87" height="505.1" fill="#f0f0f0"/>
<rect x="801.74" y="814.9" width="322.87" height="505.1" fill="#f0f0f0"/>
<rect x="1447.49" y="814.9" width="322.87" height="505.1" fill="#f0f0f0"/>
<rect x="2093.23" y="814.9" width="322.87" height="505.1" fill="#f0f0f0"/>
<rect x="478.27" y="814.9" width="1.2" height="505.1" fill="#cfcfcf"/>
<rect x="801.14" y="814.9" width="1.2" height="505.1" fill="#cfcfcf"/>
<rect x="1124.01" y="814.9" width="1.2" height="505.1" fill="#cfcfcf"/>
<rect x="1446.89" y="814.9" width="1.2" height="505.1" fill="#cfcfcf"/>
<rect x="1769.76" y="814.9" width="1.2" height="505.1" fill="#cfcfcf"/>
<rect x="2092.63" y="814.9" width="1.2" height="505.1" fill="#cfcfcf"/>
<rect x="156" y="1247.84" width="2260.1" height="72.16" fill="#f0f0f0"/>
<rect x="156" y="1103.53" width="2260.1" height="72.16" fill="#f0f0f0"/>
<rect x="156" y="959.21" width="2260.1" height="72.16" fill="#f0f0f0"/>
<rect x="156" y="814.9" width="2260.1" height="72.16" fill="#f0f0f0"/>
<rect x="156" y="1247.24" width="2260.1" height="1.2" fill="#c6c6c6"/>
<rect x="156" y="1175.09" width="2260.1" height="1.2" fill="#c6c6c6"/>
<rect x="156" y="1102.93" width="2260.1" height="1.2" fill="#c6c6c6"/>
<rect x="156" y="1030.77" width="2260.1" height="1.2" fill="#c6c6c6"/>
<rect x="156" y="958.61" width="2260.1" height="1.2" fill="#c6c6c6"/>
<rect x="156" y="886.46" width="2260.1" height="1.2" fill="#c6c6c6"/>
<rect x="156" y="814.3" width="2260.1" height="1.2" fill="#c6c6c6"/>
<g clip-path="url(#cbot)">
<path fill="#a1ecc4" d="M156 1320V1276.71H157.12V1320ZM157.12 1320V1276.71H158.24V1320ZM158.24 1320V1276.71H159.36V1320ZM159.36 1320V1283.92H160.48V1320ZM160.48 1320V1276.71H161.61V1320ZM161.61 1320V1276.71H162.73V1320ZM162.73 1320V1269.49H163.85V1320ZM163.85 1320V1276.71H164.97V1320ZM164.97 1320V1269.49H166.09V1320ZM166.09 1320V1276.71H167.21V1320ZM167.21 1320V1269.49H168.33V1320ZM168.33 1320V1283.92H169.45V1320ZM169.45 1320V1276.71H170.57V1320ZM170.57 1320V1276.71H171.7V1320ZM171.7 1320V1276.71H172.82V1320ZM172.82 1320V1276.71H173.94V1320ZM173.94 1320V1276.71H175.06V1320ZM175.06 1320V1276.71H176.18V1320ZM176.18 1320V1276.71H177.3V1320ZM177.3 1320V1276.71H178.42V1320ZM178.42 1320V1276.71H179.54V1320ZM179.54 1320V1269.49H180.66V1320ZM180.66 1320V1276.71H181.78V1320ZM181.78 1320V1276.71H182.91V1320ZM182.91 1320V1276.71H184.03V1320ZM184.03 1320V1276.71H185.15V1320ZM185.15 1320V1276.71H186.27V1320ZM186.27 1320V1276.71H187.39V1320ZM187.39 1320V1276.71H188.51V1320ZM188.51 1320V1276.71H189.63V1320ZM189.63 1320V1276.71H190.75V1320ZM190.75 1320V1276.71H191.87V1320ZM191.87 1320V1276.71H193V1320ZM193 1320V1269.49H194.12V1320ZM194.12 1320V1269.49H195.24V1320ZM195.24 1320V1276.71H196.36V1320ZM196.36 1320V1276.71H197.48V1320ZM197.48 1320V1276.71H198.6V1320ZM198.6 1320V1276.71H199.72V1320ZM199.72 1320V1276.71H200.84V1320ZM200.84 1320V1276.71H201.96V1320ZM201.96 1320V1276.71H203.09V1320ZM203.09 1320V1276.71H204.21V1320ZM204.21 1320V1276.71H205.33V1320ZM205.33 1320V1276.71H206.45V1320ZM206.45 1320V1276.71H207.57V1320ZM207.57 1320V1276.71H208.69V1320ZM208.69 1320V1276.71H209.81V1320ZM209.81 1320V1276.71H210.93V1320ZM210.93 1320V1276.71H212.05V1320ZM212.05 1320V1276.71H213.18V1320ZM213.18 1320V1276.71H214.3V1320ZM214.3 1320V1276.71H215.42V1320ZM215.42 1320V1276.71H216.54V1320ZM216.54 1320V1276.71H217.66V1320ZM217.66 1320V1276.71H218.78V1320ZM218.78 1320V1269.49H219.9V1320ZM219.9 1320V1276.71H221.02V1320ZM221.02 1320V1276.71H222.14V1320ZM222.14 1320V1276.71H223.26V1320ZM223.26 1320V1276.71H224.39V1320ZM224.39 1320V1276.71H225.51V1320ZM225.51 1320V1276.71H226.63V1320ZM226.63 1320V1276.71H227.75V1320ZM227.75 1320V1276.71H228.87V1320ZM228.87 1320V1276.71H229.99V1320ZM229.99 1320V1276.71H231.11V1320ZM231.11 1320V1276.71H232.23V1320ZM232.23 1320V1276.71H233.35V1320ZM233.35 1320V1276.71H234.48V1320ZM234.48 1320V1269.49H235.6V1320ZM235.6 1320V1276.71H236.72V1320ZM236.72 1320V1276.71H237.84V1320ZM237.84 1320V1276.71H238.96V1320ZM238.96 1320V1276.71H240.08V1320ZM240.08 1320V1276.71H241.2V1320ZM241.2 1320V1276.71H242.32V1320ZM242.32 1320V1276.71H243.44V1320ZM243.44 1320V1269.49H244.57V1320ZM244.57 1320V1276.71H245.69V1320ZM245.69 1320V1276.71H246.81V1320ZM246.81 1320V1276.71H247.93V1320ZM247.93 1320V1269.49H249.05V1320ZM249.05 1320V1276.71H250.17V1320ZM250.17 1320V1276.71H251.29V1320ZM251.29 1320V1276.71H252.41V1320ZM252.41 1320V1276.71H253.53V1320ZM253.53 1320V1276.71H254.66V1320ZM254.66 1320V1283.92H255.78V1320ZM255.78 1320V1276.71H256.9V1320ZM256.9 1320V1276.71H258.02V1320ZM258.02 1320V1276.71H259.14V1320ZM259.14 1320V1276.71H260.26V1320ZM260.26 1320V1276.71H261.38V1320ZM261.38 1320V1276.71H262.5V1320ZM262.5 1320V1276.71H263.62V1320ZM263.62 1320V1276.71H264.74V1320ZM264.74 1320V1276.71H265.87V1320ZM265.87 1320V1276.71H266.99V1320ZM266.99 1320V1276.71H268.11V1320ZM268.11 1320V1276.71H269.23V1320ZM269.23 1320V1276.71H270.35V1320ZM270.35 1320V1276.71H271.47V1320ZM271.47 1320V1276.71H272.59V1320ZM272.59 1320V1276.71H273.71V1320ZM273.71 1320V1276.71H274.83V1320ZM274.83 1320V1269.49H275.96V1320ZM275.96 1320V1276.71H277.08V1320ZM277.08 1320V1269.49H278.2V1320ZM278.2 1320V1269.49H279.32V1320ZM279.32 1320V1269.49H280.44V1320ZM280.44 1320V1269.49H281.56V1320ZM281.56 1320V1262.27H282.68V1320ZM282.68 1320V1269.49H283.8V1320ZM283.8 1320V1269.49H284.92V1320ZM284.92 1320V1269.49H286.05V1320ZM286.05 1320V1269.49H287.17V1320ZM287.17 1320V1276.71H288.29V1320ZM288.29 1320V1276.71H289.41V1320ZM289.41 1320V1276.71H290.53V1320ZM290.53 1320V1276.71H291.65V1320ZM291.65 1320V1276.71H292.77V1320ZM292.77 1320V1276.71H293.89V1320ZM293.89 1320V1276.71H295.01V1320ZM295.01 1320V1269.49H296.14V1320ZM296.14 1320V1269.49H297.26V1320ZM297.26 1320V1276.71H298.38V1320ZM298.38 1320V1276.71H299.5V1320ZM299.5 1320V1276.71H300.62V1320ZM300.62 1320V1269.49H301.74V1320ZM301.74 1320V1269.49H302.86V1320ZM302.86 1320V1276.71H303.98V1320ZM303.98 1320V1276.71H305.1V1320ZM305.1 1320V1276.71H306.22V1320ZM306.22 1320V1269.49H307.35V1320ZM307.35 1320V1276.71H308.47V1320ZM308.47 1320V1276.71H309.59V1320ZM309.59 1320V1276.71H310.71V1320ZM310.71 1320V1276.71H311.83V1320ZM311.83 1320V1276.71H312.95V1320ZM312.95 1320V1276.71H314.07V1320ZM314.07 1320V1276.71H315.19V1320ZM315.19 1320V1276.71H316.31V1320ZM316.31 1320V1276.71H317.44V1320ZM317.44 1320V1283.92H318.56V1320ZM318.56 1320V1283.92H319.68V1320ZM319.68 1320V1283.92H320.8V1320ZM320.8 1320V1283.92H321.92V1320ZM321.92 1320V1283.92H323.04V1320ZM323.04 1320V1291.14H324.16V1320ZM324.16 1320V1291.14H325.28V1320ZM325.28 1320V1276.71H326.4V1320ZM326.4 1320V1291.14H327.53V1320ZM327.53 1320V1291.14H328.65V1320ZM328.65 1320V1291.14H329.77V1320ZM329.77 1320V1291.14H330.89V1320ZM330.89 1320V1291.14H332.01V1320ZM332.01 1320V1291.14H333.13V1320ZM333.13 1320V1291.14H334.25V1320ZM334.25 1320V1291.14H335.37V1320ZM335.37 1320V1291.14H336.49V1320ZM336.49 1320V1291.14H337.62V1320ZM337.62 1320V1291.14H338.74V1320ZM338.74 1320V1291.14H339.86V1320ZM339.86 1320V1291.14H340.98V1320ZM340.98 1320V1291.14H342.1V1320ZM342.1 1320V1291.14H343.22V1320ZM343.22 1320V1291.14H344.34V1320ZM344.34 1320V1291.14H345.46V1320ZM345.46 1320V1291.14H346.58V1320ZM346.58 1320V1291.14H347.7V1320ZM347.7 1320V1291.14H348.83V1320ZM348.83 1320V1291.14H349.95V1320ZM349.95 1320V1291.14H351.07V1320ZM351.07 1320V1291.14H352.19V1320ZM352.19 1320V1291.14H353.31V1320ZM353.31 1320V1291.14H354.43V1320ZM354.43 1320V1283.92H355.55V1320ZM355.55 1320V1283.92H356.67V1320ZM356.67 1320V1283.92H357.79V1320ZM357.79 1320V1283.92H358.92V1320ZM358.92 1320V1283.92H360.04V1320ZM360.04 1320V1283.92H361.16V1320ZM361.16 1320V1283.92H362.28V1320ZM362.28 1320V1283.92H363.4V1320ZM363.4 1320V1283.92H364.52V1320ZM364.52 1320V1283.92H365.64V1320ZM365.64 1320V1291.14H366.76V1320ZM366.76 1320V1291.14H367.88V1320ZM367.88 1320V1283.92H369.01V1320ZM369.01 1320V1283.92H370.13V1320ZM370.13 1320V1283.92H371.25V1320ZM371.25 1320V1283.92H372.37V1320ZM372.37 1320V1283.92H373.49V1320ZM373.49 1320V1283.92H374.61V1320ZM374.61 1320V1283.92H375.73V1320ZM375.73 1320V1283.92H376.85V1320ZM376.85 1320V1283.92H377.97V1320ZM377.97 1320V1283.92H379.1V1320ZM379.1 1320V1283.92H380.22V1320ZM380.22 1320V1283.92H381.34V1320ZM381.34 1320V1276.71H382.46V1320ZM382.46 1320V1276.71H383.58V1320ZM383.58 1320V1276.71H384.7V1320ZM384.7 1320V1276.71H385.82V1320ZM385.82 1320V1276.71H386.94V1320ZM386.94 1320V1276.71H388.06V1320ZM388.06 1320V1276.71H389.18V1320ZM389.18 1320V1283.92H390.31V1320ZM390.31 1320V1276.71H391.43V1320ZM391.43 1320V1276.71H392.55V1320ZM392.55 1320V1276.71H393.67V1320ZM393.67 1320V1276.71H394.79V1320ZM394.79 1320V1276.71H395.91V1320ZM395.91 1320V1276.71H397.03V1320ZM397.03 1320V1276.71H398.15V1320ZM398.15 1320V1276.71H399.27V1320ZM399.27 1320V1276.71H400.4V1320ZM400.4 1320V1276.71H401.52V1320ZM401.52 1320V1276.71H402.64V1320ZM402.64 1320V1276.71H403.76V1320ZM403.76 1320V1276.71H404.88V1320ZM404.88 1320V1276.71H406V1320ZM406 1320V1276.71H407.12V1320ZM407.12 1320V1276.71H408.24V1320ZM408.24 1320V1276.71H409.36V1320ZM409.36 1320V1276.71H410.49V1320ZM410.49 1320V1276.71H411.61V1320ZM411.61 1320V1276.71H412.73V1320ZM412.73 1320V1276.71H413.85V1320ZM413.85 1320V1276.71H414.97V1320ZM414.97 1320V1276.71H416.09V1320ZM416.09 1320V1276.71H417.21V1320ZM417.21 1320V1276.71H418.33V1320ZM418.33 1320V1276.71H419.45V1320ZM419.45 1320V1283.92H420.58V1320ZM420.58 1320V1276.71H421.7V1320ZM421.7 1320V1276.71H422.82V1320ZM422.82 1320V1276.71H423.94V1320ZM423.94 1320V1276.71H425.06V1320ZM425.06 1320V1276.71H426.18V1320ZM426.18 1320V1276.71H427.3V1320ZM427.3 1320V1276.71H428.42V1320ZM428.42 1320V1276.71H429.54V1320ZM429.54 1320V1276.71H430.66V1320ZM430.66 1320V1276.71H431.79V1320ZM431.79 1320V1276.71H432.91V1320ZM432.91 1320V1269.49H434.03V1320ZM434.03 1320V1276.71H435.15V1320ZM435.15 1320V1269.49H436.27V1320ZM436.27 1320V1276.71H437.39V1320ZM437.39 1320V1269.49H438.51V1320ZM438.51 1320V1276.71H439.63V1320ZM439.63 1320V1269.49H440.75V1320ZM440.75 1320V1269.49H441.88V1320ZM441.88 1320V1269.49H443V1320ZM443 1320V1269.49H444.12V1320ZM444.12 1320V1269.49H445.24V1320ZM445.24 1320V1269.49H446.36V1320ZM446.36 1320V1269.49H447.48V1320ZM447.48 1320V1269.49H448.6V1320ZM448.6 1320V1276.71H449.72V1320ZM449.72 1320V1269.49H450.84V1320ZM450.84 1320V1276.71H451.97V1320ZM451.97 1320V1276.71H453.09V1320ZM453.09 1320V1269.49H454.21V1320ZM454.21 1320V1276.71H455.33V1320ZM455.33 1320V1269.49H456.45V1320ZM456.45 1320V1262.27H457.57V1320ZM457.57 1320V1269.49H458.69V1320ZM458.69 1320V1276.71H459.81V1320ZM459.81 1320V1269.49H460.93V1320ZM460.93 1320V1269.49H462.06V1320ZM462.06 1320V1269.49H463.18V1320ZM463.18 1320V1276.71H464.3V1320ZM464.3 1320V1269.49H465.42V1320ZM465.42 1320V1276.71H466.54V1320ZM466.54 1320V1276.71H467.66V1320ZM467.66 1320V1269.49H468.78V1320ZM468.78 1320V1269.49H469.9V1320ZM469.9 1320V1269.49H471.02V1320ZM471.02 1320V1269.49H472.14V1320ZM472.14 1320V1269.49H473.27V1320ZM473.27 1320V1269.49H474.39V1320ZM474.39 1320V1269.49H475.51V1320ZM475.51 1320V1269.49H476.63V1320ZM476.63 1320V1269.49H477.75V1320ZM477.75 1320V1269.49H478.87V1320ZM478.87 1320V1269.49H479.99V1320ZM479.99 1320V1269.49H481.11V1320ZM481.11 1320V1269.49H482.23V1320ZM482.23 1320V1276.71H483.36V1320ZM483.36 1320V1276.71H484.48V1320ZM484.48 1320V1276.71H485.6V1320ZM485.6 1320V1276.71H486.72V1320ZM486.72 1320V1269.49H487.84V1320ZM487.84 1320V1276.71H488.96V1320ZM488.96 1320V1276.71H490.08V1320ZM490.08 1320V1276.71H491.2V1320ZM491.2 1320V1269.49H492.32V1320ZM492.32 1320V1269.49H493.45V1320ZM493.45 1320V1269.49H494.57V1320ZM494.57 1320V1269.49H495.69V1320ZM495.69 1320V1269.49H496.81V1320ZM496.81 1320V1269.49H497.93V1320ZM497.93 1320V1276.71H499.05V1320ZM499.05 1320V1276.71H500.17V1320ZM500.17 1320V1276.71H501.29V1320ZM501.29 1320V1269.49H502.41V1320ZM502.41 1320V1276.71H503.54V1320ZM503.54 1320V1276.71H504.66V1320ZM504.66 1320V1269.49H505.78V1320ZM505.78 1320V1276.71H506.9V1320ZM506.9 1320V1276.71H508.02V1320ZM508.02 1320V1269.49H509.14V1320ZM509.14 1320V1276.71H510.26V1320ZM510.26 1320V1269.49H511.38V1320ZM511.38 1320V1269.49H512.5V1320ZM512.5 1320V1276.71H513.62V1320ZM513.62 1320V1276.71H514.75V1320ZM514.75 1320V1269.49H515.87V1320ZM515.87 1320V1269.49H516.99V1320ZM516.99 1320V1269.49H518.11V1320ZM518.11 1320V1269.49H519.23V1320ZM519.23 1320V1269.49H520.35V1320ZM520.35 1320V1269.49H521.47V1320ZM521.47 1320V1276.71H522.59V1320ZM522.59 1320V1269.49H523.71V1320ZM523.71 1320V1276.71H524.84V1320ZM524.84 1320V1269.49H525.96V1320ZM525.96 1320V1269.49H527.08V1320ZM527.08 1320V1269.49H528.2V1320ZM528.2 1320V1276.71H529.32V1320ZM529.32 1320V1269.49H530.44V1320ZM530.44 1320V1269.49H531.56V1320ZM531.56 1320V1276.71H532.68V1320ZM532.68 1320V1276.71H533.8V1320ZM533.8 1320V1276.71H534.93V1320ZM534.93 1320V1269.49H536.05V1320ZM536.05 1320V1269.49H537.17V1320ZM537.17 1320V1269.49H538.29V1320ZM538.29 1320V1276.71H539.41V1320ZM539.41 1320V1269.49H540.53V1320ZM540.53 1320V1269.49H541.65V1320ZM541.65 1320V1269.49H542.77V1320ZM542.77 1320V1276.71H543.89V1320ZM543.89 1320V1276.71H545.02V1320ZM545.02 1320V1269.49H546.14V1320ZM546.14 1320V1269.49H547.26V1320ZM547.26 1320V1276.71H548.38V1320ZM548.38 1320V1276.71H549.5V1320ZM549.5 1320V1276.71H550.62V1320ZM550.62 1320V1269.49H551.74V1320ZM551.74 1320V1269.49H552.86V1320ZM552.86 1320V1276.71H553.98V1320ZM553.98 1320V1269.49H555.1V1320ZM555.1 1320V1269.49H556.23V1320ZM556.23 1320V1276.71H557.35V1320ZM557.35 1320V1276.71H558.47V1320ZM558.47 1320V1276.71H559.59V1320ZM707.57 1320V1283.92H708.69V1320ZM708.69 1320V1276.71H709.81V1320ZM709.81 1320V1283.92H710.94V1320ZM710.94 1320V1276.71H712.06V1320ZM712.06 1320V1276.71H713.18V1320ZM713.18 1320V1276.71H714.3V1320ZM714.3 1320V1276.71H715.42V1320ZM715.42 1320V1276.71H716.54V1320ZM716.54 1320V1283.92H717.66V1320ZM717.66 1320V1283.92H718.78V1320ZM718.78 1320V1276.71H719.9V1320ZM719.9 1320V1283.92H721.02V1320ZM721.02 1320V1283.92H722.15V1320ZM722.15 1320V1283.92H723.27V1320ZM723.27 1320V1283.92H724.39V1320ZM724.39 1320V1283.92H725.51V1320ZM725.51 1320V1276.71H726.63V1320ZM726.63 1320V1276.71H727.75V1320ZM727.75 1320V1276.71H728.87V1320ZM728.87 1320V1276.71H729.99V1320ZM729.99 1320V1276.71H731.11V1320ZM731.11 1320V1283.92H732.24V1320ZM732.24 1320V1276.71H733.36V1320ZM733.36 1320V1269.49H734.48V1320ZM734.48 1320V1283.92H735.6V1320ZM735.6 1320V1269.49H736.72V1320ZM736.72 1320V1276.71H737.84V1320ZM737.84 1320V1276.71H738.96V1320ZM738.96 1320V1283.92H740.08V1320ZM740.08 1320V1276.71H741.2V1320ZM741.2 1320V1276.71H742.33V1320ZM742.33 1320V1283.92H743.45V1320ZM743.45 1320V1276.71H744.57V1320ZM744.57 1320V1276.71H745.69V1320ZM745.69 1320V1276.71H746.81V1320ZM746.81 1320V1276.71H747.93V1320ZM747.93 1320V1276.71H749.05V1320ZM749.05 1320V1276.71H750.17V1320ZM750.17 1320V1276.71H751.29V1320ZM751.29 1320V1276.71H752.42V1320ZM752.42 1320V1276.71H753.54V1320ZM753.54 1320V1276.71H754.66V1320ZM754.66 1320V1276.71H755.78V1320ZM755.78 1320V1276.71H756.9V1320ZM756.9 1320V1276.71H758.02V1320ZM758.02 1320V1276.71H759.14V1320ZM759.14 1320V1283.92H760.26V1320ZM760.26 1320V1283.92H761.38V1320ZM761.38 1320V1283.92H762.51V1320ZM762.51 1320V1276.71H763.63V1320ZM763.63 1320V1283.92H764.75V1320ZM764.75 1320V1283.92H765.87V1320ZM765.87 1320V1283.92H766.99V1320ZM766.99 1320V1276.71H768.11V1320ZM768.11 1320V1276.71H769.23V1320ZM769.23 1320V1276.71H770.35V1320ZM770.35 1320V1276.71H771.47V1320ZM771.47 1320V1283.92H772.59V1320ZM772.59 1320V1276.71H773.72V1320ZM773.72 1320V1276.71H774.84V1320ZM774.84 1320V1283.92H775.96V1320ZM775.96 1320V1276.71H777.08V1320ZM777.08 1320V1283.92H778.2V1320ZM778.2 1320V1276.71H779.32V1320ZM779.32 1320V1276.71H780.44V1320ZM780.44 1320V1276.71H781.56V1320ZM781.56 1320V1283.92H782.68V1320ZM782.68 1320V1276.71H783.81V1320ZM783.81 1320V1276.71H784.93V1320ZM784.93 1320V1276.71H786.05V1320ZM786.05 1320V1269.49H787.17V1320ZM787.17 1320V1276.71H788.29V1320ZM788.29 1320V1276.71H789.41V1320ZM789.41 1320V1276.71H790.53V1320ZM790.53 1320V1283.92H791.65V1320ZM791.65 1320V1276.71H792.77V1320ZM792.77 1320V1269.49H793.9V1320ZM793.9 1320V1283.92H795.02V1320ZM795.02 1320V1283.92H796.14V1320ZM796.14 1320V1276.71H797.26V1320ZM797.26 1320V1283.92H798.38V1320ZM798.38 1320V1269.49H799.5V1320ZM799.5 1320V1276.71H800.62V1320ZM800.62 1320V1283.92H801.74V1320ZM801.74 1320V1276.71H802.86V1320ZM802.86 1320V1276.71H803.99V1320ZM803.99 1320V1276.71H805.11V1320ZM805.11 1320V1276.71H806.23V1320ZM806.23 1320V1276.71H807.35V1320ZM807.35 1320V1276.71H808.47V1320ZM808.47 1320V1276.71H809.59V1320ZM809.59 1320V1276.71H810.71V1320ZM810.71 1320V1276.71H811.83V1320ZM811.83 1320V1283.92H812.95V1320ZM812.95 1320V1276.71H814.07V1320ZM814.07 1320V1276.71H815.2V1320ZM815.2 1320V1269.49H816.32V1320ZM816.32 1320V1276.71H817.44V1320ZM817.44 1320V1276.71H818.56V1320ZM818.56 1320V1276.71H819.68V1320ZM819.68 1320V1276.71H820.8V1320ZM820.8 1320V1276.71H821.92V1320ZM821.92 1320V1283.92H823.04V1320ZM823.04 1320V1276.71H824.16V1320ZM824.16 1320V1283.92H825.29V1320ZM825.29 1320V1283.92H826.41V1320ZM826.41 1320V1283.92H827.53V1320ZM827.53 1320V1283.92H828.65V1320ZM828.65 1320V1283.92H829.77V1320ZM829.77 1320V1283.92H830.89V1320ZM830.89 1320V1283.92H832.01V1320ZM832.01 1320V1283.92H833.13V1320ZM833.13 1320V1283.92H834.25V1320ZM834.25 1320V1291.14H835.38V1320ZM835.38 1320V1283.92H836.5V1320ZM836.5 1320V1283.92H837.62V1320ZM837.62 1320V1291.14H838.74V1320ZM838.74 1320V1283.92H839.86V1320ZM839.86 1320V1283.92H840.98V1320ZM840.98 1320V1283.92H842.1V1320ZM842.1 1320V1283.92H843.22V1320ZM843.22 1320V1283.92H844.34V1320ZM844.34 1320V1283.92H845.47V1320ZM845.47 1320V1276.71H846.59V1320ZM846.59 1320V1283.92H847.71V1320ZM847.71 1320V1283.92H848.83V1320ZM848.83 1320V1283.92H849.95V1320ZM849.95 1320V1283.92H851.07V1320ZM851.07 1320V1283.92H852.19V1320ZM852.19 1320V1291.14H853.31V1320ZM853.31 1320V1283.92H854.43V1320ZM854.43 1320V1283.92H855.55V1320ZM855.55 1320V1291.14H856.68V1320ZM856.68 1320V1283.92H857.8V1320ZM857.8 1320V1283.92H858.92V1320ZM858.92 1320V1283.92H860.04V1320ZM860.04 1320V1283.92H861.16V1320ZM861.16 1320V1283.92H862.28V1320ZM862.28 1320V1283.92H863.4V1320ZM863.4 1320V1283.92H864.52V1320ZM864.52 1320V1283.92H865.64V1320ZM865.64 1320V1283.92H866.77V1320ZM866.77 1320V1283.92H867.89V1320ZM867.89 1320V1283.92H869.01V1320ZM869.01 1320V1283.92H870.13V1320ZM870.13 1320V1291.14H871.25V1320ZM871.25 1320V1283.92H872.37V1320ZM872.37 1320V1283.92H873.49V1320ZM873.49 1320V1283.92H874.61V1320ZM874.61 1320V1283.92H875.73V1320ZM875.73 1320V1283.92H876.86V1320ZM876.86 1320V1276.71H877.98V1320ZM877.98 1320V1291.14H879.1V1320ZM879.1 1320V1283.92H880.22V1320ZM880.22 1320V1283.92H881.34V1320ZM881.34 1320V1283.92H882.46V1320ZM1030.44 1320V1276.71H1031.56V1320ZM1031.56 1320V1276.71H1032.69V1320ZM1032.69 1320V1276.71H1033.81V1320ZM1033.81 1320V1276.71H1034.93V1320ZM1034.93 1320V1276.71H1036.05V1320ZM1036.05 1320V1276.71H1037.17V1320ZM1037.17 1320V1276.71H1038.29V1320ZM1038.29 1320V1276.71H1039.41V1320ZM1039.41 1320V1276.71H1040.53V1320ZM1040.53 1320V1276.71H1041.65V1320ZM1041.65 1320V1269.49H1042.78V1320ZM1042.78 1320V1247.84H1043.9V1320ZM1043.9 1320V1276.71H1045.02V1320ZM1045.02 1320V1276.71H1046.14V1320ZM1046.14 1320V1276.71H1047.26V1320ZM1047.26 1320V1276.71H1048.38V1320ZM1048.38 1320V1276.71H1049.5V1320ZM1049.5 1320V1276.71H1050.62V1320ZM1050.62 1320V1276.71H1051.74V1320ZM1051.74 1320V1276.71H1052.87V1320ZM1052.87 1320V1276.71H1053.99V1320ZM1053.99 1320V1276.71H1055.11V1320ZM1055.11 1320V1276.71H1056.23V1320ZM1056.23 1320V1276.71H1057.35V1320ZM1057.35 1320V1276.71H1058.47V1320ZM1058.47 1320V1276.71H1059.59V1320ZM1059.59 1320V1276.71H1060.71V1320ZM1060.71 1320V1276.71H1061.83V1320ZM1061.83 1320V1276.71H1062.95V1320ZM1062.95 1320V1276.71H1064.08V1320ZM1064.08 1320V1276.71H1065.2V1320ZM1065.2 1320V1269.49H1066.32V1320ZM1066.32 1320V1262.27H1067.44V1320ZM1067.44 1320V1276.71H1068.56V1320ZM1068.56 1320V1276.71H1069.68V1320ZM1069.68 1320V1276.71H1070.8V1320ZM1070.8 1320V1276.71H1071.92V1320ZM1071.92 1320V1276.71H1073.04V1320ZM1073.04 1320V1276.71H1074.17V1320ZM1074.17 1320V1276.71H1075.29V1320ZM1075.29 1320V1262.27H1076.41V1320ZM1076.41 1320V1276.71H1077.53V1320ZM1077.53 1320V1276.71H1078.65V1320ZM1078.65 1320V1276.71H1079.77V1320ZM1079.77 1320V1276.71H1080.89V1320ZM1080.89 1320V1276.71H1082.01V1320ZM1082.01 1320V1276.71H1083.13V1320ZM1083.13 1320V1276.71H1084.26V1320ZM1084.26 1320V1276.71H1085.38V1320ZM1085.38 1320V1276.71H1086.5V1320ZM1086.5 1320V1276.71H1087.62V1320ZM1087.62 1320V1276.71H1088.74V1320ZM1088.74 1320V1276.71H1089.86V1320ZM1089.86 1320V1276.71H1090.98V1320ZM1090.98 1320V1276.71H1092.1V1320ZM1092.1 1320V1269.49H1093.22V1320ZM1093.22 1320V1269.49H1094.35V1320ZM1094.35 1320V1276.71H1095.47V1320ZM1095.47 1320V1276.71H1096.59V1320ZM1096.59 1320V1276.71H1097.71V1320ZM1097.71 1320V1276.71H1098.83V1320ZM1098.83 1320V1276.71H1099.95V1320ZM1099.95 1320V1276.71H1101.07V1320ZM1101.07 1320V1276.71H1102.19V1320ZM1102.19 1320V1276.71H1103.31V1320ZM1103.31 1320V1276.71H1104.43V1320ZM1104.43 1320V1276.71H1105.56V1320ZM1105.56 1320V1276.71H1106.68V1320ZM1106.68 1320V1276.71H1107.8V1320ZM1107.8 1320V1276.71H1108.92V1320ZM1108.92 1320V1276.71H1110.04V1320ZM1110.04 1320V1276.71H1111.16V1320ZM1111.16 1320V1276.71H1112.28V1320ZM1112.28 1320V1269.49H1113.4V1320ZM1113.4 1320V1276.71H1114.52V1320ZM1114.52 1320V1276.71H1115.65V1320ZM1115.65 1320V1276.71H1116.77V1320ZM1116.77 1320V1276.71H1117.89V1320ZM1117.89 1320V1276.71H1119.01V1320ZM1119.01 1320V1269.49H1120.13V1320ZM1120.13 1320V1276.71H1121.25V1320ZM1121.25 1320V1276.71H1122.37V1320ZM1122.37 1320V1276.71H1123.49V1320ZM1123.49 1320V1276.71H1124.61V1320ZM1124.61 1320V1276.71H1125.74V1320ZM1125.74 1320V1276.71H1126.86V1320ZM1126.86 1320V1276.71H1127.98V1320ZM1127.98 1320V1276.71H1129.1V1320ZM1129.1 1320V1276.71H1130.22V1320ZM1130.22 1320V1276.71H1131.34V1320ZM1131.34 1320V1276.71H1132.46V1320ZM1132.46 1320V1276.71H1133.58V1320ZM1133.58 1320V1269.49H1134.7V1320ZM1134.7 1320V1269.49H1135.83V1320ZM1135.83 1320V1276.71H1136.95V1320ZM1136.95 1320V1276.71H1138.07V1320ZM1138.07 1320V1276.71H1139.19V1320ZM1139.19 1320V1276.71H1140.31V1320ZM1140.31 1320V1276.71H1141.43V1320ZM1141.43 1320V1276.71H1142.55V1320ZM1142.55 1320V1276.71H1143.67V1320ZM1143.67 1320V1269.49H1144.79V1320ZM1144.79 1320V1276.71H1145.91V1320ZM1145.91 1320V1269.49H1147.04V1320ZM1147.04 1320V1276.71H1148.16V1320ZM1148.16 1320V1269.49H1149.28V1320ZM1149.28 1320V1276.71H1150.4V1320ZM1150.4 1320V1276.71H1151.52V1320ZM1151.52 1320V1276.71H1152.64V1320ZM1152.64 1320V1276.71H1153.76V1320ZM1153.76 1320V1276.71H1154.88V1320ZM1154.88 1320V1276.71H1156V1320ZM1156 1320V1276.71H1157.13V1320ZM1157.13 1320V1276.71H1158.25V1320ZM1158.25 1320V1269.49H1159.37V1320ZM1159.37 1320V1269.49H1160.49V1320ZM1160.49 1320V1269.49H1161.61V1320ZM1161.61 1320V1269.49H1162.73V1320ZM1162.73 1320V1276.71H1163.85V1320ZM1163.85 1320V1269.49H1164.97V1320ZM1164.97 1320V1276.71H1166.09V1320ZM1166.09 1320V1276.71H1167.22V1320ZM1167.22 1320V1276.71H1168.34V1320ZM1168.34 1320V1269.49H1169.46V1320ZM1169.46 1320V1269.49H1170.58V1320ZM1170.58 1320V1269.49H1171.7V1320ZM1171.7 1320V1269.49H1172.82V1320ZM1172.82 1320V1269.49H1173.94V1320ZM1173.94 1320V1276.71H1175.06V1320ZM1175.06 1320V1276.71H1176.18V1320ZM1176.18 1320V1276.71H1177.31V1320ZM1177.31 1320V1269.49H1178.43V1320ZM1178.43 1320V1269.49H1179.55V1320ZM1179.55 1320V1276.71H1180.67V1320ZM1180.67 1320V1276.71H1181.79V1320ZM1181.79 1320V1269.49H1182.91V1320ZM1182.91 1320V1276.71H1184.03V1320ZM1184.03 1320V1269.49H1185.15V1320ZM1185.15 1320V1269.49H1186.27V1320ZM1186.27 1320V1276.71H1187.39V1320ZM1187.39 1320V1276.71H1188.52V1320ZM1188.52 1320V1276.71H1189.64V1320ZM1189.64 1320V1276.71H1190.76V1320ZM1190.76 1320V1269.49H1191.88V1320ZM1191.88 1320V1269.49H1193V1320ZM1193 1320V1269.49H1194.12V1320ZM1194.12 1320V1276.71H1195.24V1320ZM1195.24 1320V1276.71H1196.36V1320ZM1196.36 1320V1276.71H1197.48V1320ZM1197.48 1320V1276.71H1198.61V1320ZM1198.61 1320V1276.71H1199.73V1320ZM1199.73 1320V1276.71H1200.85V1320ZM1200.85 1320V1269.49H1201.97V1320ZM1201.97 1320V1276.71H1203.09V1320ZM1203.09 1320V1269.49H1204.21V1320ZM1204.21 1320V1276.71H1205.33V1320ZM1353.31 1320V1204.55H1354.44V1320ZM1354.44 1320V1204.55H1355.56V1320ZM1355.56 1320V1204.55H1356.68V1320ZM1356.68 1320V1218.98H1357.8V1320ZM1357.8 1320V1218.98H1358.92V1320ZM1358.92 1320V1233.41H1360.04V1320ZM1360.04 1320V1233.41H1361.16V1320ZM1361.16 1320V1233.41H1362.28V1320ZM1362.28 1320V1240.63H1363.4V1320ZM1363.4 1320V1233.41H1364.53V1320ZM1364.53 1320V1240.63H1365.65V1320ZM1365.65 1320V1247.84H1366.77V1320ZM1366.77 1320V1262.27H1367.89V1320ZM1367.89 1320V1262.27H1369.01V1320ZM1369.01 1320V1269.49H1370.13V1320ZM1370.13 1320V1269.49H1371.25V1320ZM1371.25 1320V1276.71H1372.37V1320ZM1372.37 1320V1276.71H1373.49V1320ZM1373.49 1320V1276.71H1374.62V1320ZM1374.62 1320V1276.71H1375.74V1320ZM1375.74 1320V1276.71H1376.86V1320ZM1376.86 1320V1276.71H1377.98V1320ZM1377.98 1320V1276.71H1379.1V1320ZM1379.1 1320V1276.71H1380.22V1320ZM1380.22 1320V1276.71H1381.34V1320ZM1381.34 1320V1276.71H1382.46V1320ZM1382.46 1320V1276.71H1383.58V1320ZM1383.58 1320V1269.49H1384.71V1320ZM1384.71 1320V1276.71H1385.83V1320ZM1385.83 1320V1276.71H1386.95V1320ZM1386.95 1320V1276.71H1388.07V1320ZM1388.07 1320V1276.71H1389.19V1320ZM1389.19 1320V1276.71H1390.31V1320ZM1390.31 1320V1276.71H1391.43V1320ZM1391.43 1320V1276.71H1392.55V1320ZM1392.55 1320V1269.49H1393.67V1320ZM1393.67 1320V1276.71H1394.79V1320ZM1394.79 1320V1276.71H1395.92V1320ZM1395.92 1320V1276.71H1397.04V1320ZM1397.04 1320V1276.71H1398.16V1320ZM1398.16 1320V1276.71H1399.28V1320ZM1399.28 1320V1276.71H1400.4V1320ZM1400.4 1320V1276.71H1401.52V1320ZM1401.52 1320V1276.71H1402.64V1320ZM1402.64 1320V1276.71H1403.76V1320ZM1403.76 1320V1276.71H1404.88V1320ZM1404.88 1320V1276.71H1406.01V1320ZM1406.01 1320V1276.71H1407.13V1320ZM1407.13 1320V1276.71H1408.25V1320ZM1408.25 1320V1276.71H1409.37V1320ZM1409.37 1320V1276.71H1410.49V1320ZM1410.49 1320V1276.71H1411.61V1320ZM1411.61 1320V1276.71H1412.73V1320ZM1412.73 1320V1276.71H1413.85V1320ZM1413.85 1320V1276.71H1414.97V1320ZM1414.97 1320V1276.71H1416.1V1320ZM1416.1 1320V1276.71H1417.22V1320ZM1417.22 1320V1276.71H1418.34V1320ZM1418.34 1320V1276.71H1419.46V1320ZM1419.46 1320V1276.71H1420.58V1320ZM1420.58 1320V1276.71H1421.7V1320ZM1421.7 1320V1276.71H1422.82V1320ZM1422.82 1320V1276.71H1423.94V1320ZM1423.94 1320V1269.49H1425.06V1320ZM1425.06 1320V1269.49H1426.19V1320ZM1426.19 1320V1276.71H1427.31V1320ZM1427.31 1320V1276.71H1428.43V1320ZM1428.43 1320V1276.71H1429.55V1320ZM1429.55 1320V1276.71H1430.67V1320ZM1430.67 1320V1276.71H1431.79V1320ZM1431.79 1320V1276.71H1432.91V1320ZM1432.91 1320V1276.71H1434.03V1320ZM1434.03 1320V1276.71H1435.15V1320ZM1435.15 1320V1276.71H1436.27V1320ZM1436.27 1320V1276.71H1437.4V1320ZM1437.4 1320V1269.49H1438.52V1320ZM1438.52 1320V1276.71H1439.64V1320ZM1439.64 1320V1276.71H1440.76V1320ZM1440.76 1320V1276.71H1441.88V1320ZM1441.88 1320V1276.71H1443V1320ZM1443 1320V1276.71H1444.12V1320ZM1444.12 1320V1262.27H1445.24V1320ZM1445.24 1320V1276.71H1446.36V1320ZM1446.36 1320V1276.71H1447.49V1320ZM1447.49 1320V1276.71H1448.61V1320ZM1448.61 1320V1269.49H1449.73V1320ZM1449.73 1320V1276.71H1450.85V1320ZM1450.85 1320V1269.49H1451.97V1320ZM1451.97 1320V1269.49H1453.09V1320ZM1453.09 1320V1276.71H1454.21V1320ZM1454.21 1320V1276.71H1455.33V1320ZM1455.33 1320V1269.49H1456.45V1320ZM1456.45 1320V1269.49H1457.58V1320ZM1457.58 1320V1269.49H1458.7V1320ZM1458.7 1320V1269.49H1459.82V1320ZM1459.82 1320V1276.71H1460.94V1320ZM1460.94 1320V1269.49H1462.06V1320ZM1462.06 1320V1269.49H1463.18V1320ZM1463.18 1320V1276.71H1464.3V1320ZM1464.3 1320V1269.49H1465.42V1320ZM1465.42 1320V1269.49H1466.54V1320ZM1466.54 1320V1276.71H1467.67V1320ZM1467.67 1320V1276.71H1468.79V1320ZM1468.79 1320V1269.49H1469.91V1320ZM1469.91 1320V1269.49H1471.03V1320ZM1471.03 1320V1269.49H1472.15V1320ZM1472.15 1320V1276.71H1473.27V1320ZM1473.27 1320V1269.49H1474.39V1320ZM1474.39 1320V1276.71H1475.51V1320ZM1475.51 1320V1276.71H1476.63V1320ZM1476.63 1320V1269.49H1477.75V1320ZM1477.75 1320V1269.49H1478.88V1320ZM1478.88 1320V1276.71H1480V1320ZM1480 1320V1276.71H1481.12V1320ZM1481.12 1320V1269.49H1482.24V1320ZM1482.24 1320V1276.71H1483.36V1320ZM1483.36 1320V1269.49H1484.48V1320ZM1484.48 1320V1269.49H1485.6V1320ZM1485.6 1320V1269.49H1486.72V1320ZM1486.72 1320V1276.71H1487.84V1320ZM1487.84 1320V1276.71H1488.97V1320ZM1488.97 1320V1276.71H1490.09V1320ZM1490.09 1320V1276.71H1491.21V1320ZM1491.21 1320V1269.49H1492.33V1320ZM1492.33 1320V1269.49H1493.45V1320ZM1493.45 1320V1269.49H1494.57V1320ZM1494.57 1320V1276.71H1495.69V1320ZM1495.69 1320V1276.71H1496.81V1320ZM1496.81 1320V1269.49H1497.93V1320ZM1497.93 1320V1269.49H1499.06V1320ZM1499.06 1320V1269.49H1500.18V1320ZM1500.18 1320V1269.49H1501.3V1320ZM1501.3 1320V1276.71H1502.42V1320ZM1502.42 1320V1269.49H1503.54V1320ZM1503.54 1320V1276.71H1504.66V1320ZM1504.66 1320V1276.71H1505.78V1320ZM1505.78 1320V1276.71H1506.9V1320ZM1506.9 1320V1276.71H1508.02V1320ZM1508.02 1320V1276.71H1509.15V1320ZM1509.15 1320V1269.49H1510.27V1320ZM1510.27 1320V1269.49H1511.39V1320ZM1511.39 1320V1269.49H1512.51V1320ZM1512.51 1320V1276.71H1513.63V1320ZM1513.63 1320V1269.49H1514.75V1320ZM1514.75 1320V1269.49H1515.87V1320ZM1515.87 1320V1276.71H1516.99V1320ZM1516.99 1320V1269.49H1518.11V1320ZM1518.11 1320V1269.49H1519.23V1320ZM1519.23 1320V1269.49H1520.36V1320ZM1520.36 1320V1276.71H1521.48V1320ZM1521.48 1320V1269.49H1522.6V1320ZM1522.6 1320V1276.71H1523.72V1320ZM1523.72 1320V1276.71H1524.84V1320ZM1524.84 1320V1276.71H1525.96V1320ZM1525.96 1320V1269.49H1527.08V1320ZM1527.08 1320V1269.49H1528.2V1320ZM1676.19 1320V1283.92H1677.31V1320ZM1677.31 1320V1276.71H1678.43V1320ZM1678.43 1320V1276.71H1679.55V1320ZM1679.55 1320V1276.71H1680.67V1320ZM1680.67 1320V1283.92H1681.79V1320ZM1681.79 1320V1276.71H1682.91V1320ZM1682.91 1320V1276.71H1684.03V1320ZM1684.03 1320V1276.71H1685.15V1320ZM1685.15 1320V1276.71H1686.28V1320ZM1686.28 1320V1276.71H1687.4V1320ZM1687.4 1320V1276.71H1688.52V1320ZM1688.52 1320V1283.92H1689.64V1320ZM1689.64 1320V1276.71H1690.76V1320ZM1690.76 1320V1283.92H1691.88V1320ZM1691.88 1320V1276.71H1693V1320ZM1693 1320V1276.71H1694.12V1320ZM1694.12 1320V1276.71H1695.24V1320ZM1695.24 1320V1283.92H1696.37V1320ZM1696.37 1320V1283.92H1697.49V1320ZM1697.49 1320V1283.92H1698.61V1320ZM1698.61 1320V1283.92H1699.73V1320ZM1699.73 1320V1276.71H1700.85V1320ZM1700.85 1320V1276.71H1701.97V1320ZM1701.97 1320V1283.92H1703.09V1320ZM1703.09 1320V1276.71H1704.21V1320ZM1704.21 1320V1276.71H1705.33V1320ZM1705.33 1320V1276.71H1706.46V1320ZM1706.46 1320V1283.92H1707.58V1320ZM1707.58 1320V1276.71H1708.7V1320ZM1708.7 1320V1276.71H1709.82V1320ZM1709.82 1320V1276.71H1710.94V1320ZM1710.94 1320V1283.92H1712.06V1320ZM1712.06 1320V1276.71H1713.18V1320ZM1713.18 1320V1276.71H1714.3V1320ZM1714.3 1320V1276.71H1715.42V1320ZM1715.42 1320V1276.71H1716.55V1320ZM1716.55 1320V1283.92H1717.67V1320ZM1717.67 1320V1283.92H1718.79V1320ZM1718.79 1320V1283.92H1719.91V1320ZM1719.91 1320V1283.92H1721.03V1320ZM1721.03 1320V1276.71H1722.15V1320ZM1722.15 1320V1276.71H1723.27V1320ZM1723.27 1320V1276.71H1724.39V1320ZM1724.39 1320V1276.71H1725.51V1320ZM1725.51 1320V1276.71H1726.63V1320ZM1726.63 1320V1276.71H1727.76V1320ZM1727.76 1320V1283.92H1728.88V1320ZM1728.88 1320V1276.71H1730V1320ZM1730 1320V1276.71H1731.12V1320ZM1731.12 1320V1283.92H1732.24V1320ZM1732.24 1320V1276.71H1733.36V1320ZM1733.36 1320V1276.71H1734.48V1320ZM1734.48 1320V1283.92H1735.6V1320ZM1735.6 1320V1276.71H1736.72V1320ZM1736.72 1320V1283.92H1737.85V1320ZM1737.85 1320V1283.92H1738.97V1320ZM1738.97 1320V1283.92H1740.09V1320ZM1740.09 1320V1276.71H1741.21V1320ZM1741.21 1320V1276.71H1742.33V1320ZM1742.33 1320V1283.92H1743.45V1320ZM1743.45 1320V1269.49H1744.57V1320ZM1744.57 1320V1283.92H1745.69V1320ZM1745.69 1320V1276.71H1746.81V1320ZM1746.81 1320V1283.92H1747.94V1320ZM1747.94 1320V1283.92H1749.06V1320ZM1749.06 1320V1283.92H1750.18V1320ZM1750.18 1320V1276.71H1751.3V1320ZM1751.3 1320V1276.71H1752.42V1320ZM1752.42 1320V1283.92H1753.54V1320ZM1753.54 1320V1283.92H1754.66V1320ZM1754.66 1320V1276.71H1755.78V1320ZM1755.78 1320V1276.71H1756.9V1320ZM1756.9 1320V1276.71H1758.03V1320ZM1758.03 1320V1283.92H1759.15V1320ZM1759.15 1320V1283.92H1760.27V1320ZM1760.27 1320V1276.71H1761.39V1320ZM1761.39 1320V1276.71H1762.51V1320ZM1762.51 1320V1283.92H1763.63V1320ZM1763.63 1320V1283.92H1764.75V1320ZM1764.75 1320V1276.71H1765.87V1320ZM1765.87 1320V1283.92H1766.99V1320ZM1766.99 1320V1276.71H1768.11V1320ZM1768.11 1320V1276.71H1769.24V1320ZM1769.24 1320V1276.71H1770.36V1320ZM1770.36 1320V1276.71H1771.48V1320ZM1771.48 1320V1262.27H1772.6V1320ZM1772.6 1320V1269.49H1773.72V1320ZM1773.72 1320V1269.49H1774.84V1320ZM1774.84 1320V1276.71H1775.96V1320ZM1775.96 1320V1276.71H1777.08V1320ZM1777.08 1320V1269.49H1778.2V1320ZM1778.2 1320V1276.71H1779.33V1320ZM1779.33 1320V1276.71H1780.45V1320ZM1780.45 1320V1276.71H1781.57V1320ZM1781.57 1320V1276.71H1782.69V1320ZM1782.69 1320V1276.71H1783.81V1320ZM1783.81 1320V1276.71H1784.93V1320ZM1784.93 1320V1283.92H1786.05V1320ZM1786.05 1320V1269.49H1787.17V1320ZM1787.17 1320V1276.71H1788.29V1320ZM1788.29 1320V1276.71H1789.42V1320ZM1789.42 1320V1276.71H1790.54V1320ZM1790.54 1320V1283.92H1791.66V1320ZM1791.66 1320V1276.71H1792.78V1320ZM1792.78 1320V1276.71H1793.9V1320ZM1793.9 1320V1276.71H1795.02V1320ZM1795.02 1320V1283.92H1796.14V1320ZM1796.14 1320V1276.71H1797.26V1320ZM1797.26 1320V1276.71H1798.38V1320ZM1798.38 1320V1276.71H1799.51V1320ZM1799.51 1320V1283.92H1800.63V1320ZM1800.63 1320V1276.71H1801.75V1320ZM1801.75 1320V1276.71H1802.87V1320ZM1802.87 1320V1276.71H1803.99V1320ZM1803.99 1320V1276.71H1805.11V1320ZM1805.11 1320V1283.92H1806.23V1320ZM1806.23 1320V1276.71H1807.35V1320ZM1807.35 1320V1276.71H1808.47V1320ZM1808.47 1320V1276.71H1809.59V1320ZM1809.59 1320V1283.92H1810.72V1320ZM1810.72 1320V1276.71H1811.84V1320ZM1811.84 1320V1276.71H1812.96V1320ZM1812.96 1320V1276.71H1814.08V1320ZM1814.08 1320V1276.71H1815.2V1320ZM1815.2 1320V1276.71H1816.32V1320ZM1816.32 1320V1283.92H1817.44V1320ZM1817.44 1320V1276.71H1818.56V1320ZM1818.56 1320V1276.71H1819.68V1320ZM1819.68 1320V1276.71H1820.81V1320ZM1820.81 1320V1276.71H1821.93V1320ZM1821.93 1320V1276.71H1823.05V1320ZM1823.05 1320V1276.71H1824.17V1320ZM1824.17 1320V1276.71H1825.29V1320ZM1825.29 1320V1276.71H1826.41V1320ZM1826.41 1320V1276.71H1827.53V1320ZM1827.53 1320V1276.71H1828.65V1320ZM1828.65 1320V1283.92H1829.77V1320ZM1829.77 1320V1276.71H1830.9V1320ZM1830.9 1320V1276.71H1832.02V1320ZM1832.02 1320V1276.71H1833.14V1320ZM1833.14 1320V1283.92H1834.26V1320ZM1834.26 1320V1276.71H1835.38V1320ZM1835.38 1320V1276.71H1836.5V1320ZM1836.5 1320V1283.92H1837.62V1320ZM1837.62 1320V1276.71H1838.74V1320ZM1838.74 1320V1283.92H1839.86V1320ZM1839.86 1320V1276.71H1840.99V1320ZM1840.99 1320V1276.71H1842.11V1320ZM1842.11 1320V1276.71H1843.23V1320ZM1843.23 1320V1276.71H1844.35V1320ZM1844.35 1320V1276.71H1845.47V1320ZM1845.47 1320V1276.71H1846.59V1320ZM1846.59 1320V1276.71H1847.71V1320ZM1847.71 1320V1276.71H1848.83V1320ZM1848.83 1320V1276.71H1849.95V1320ZM1849.95 1320V1276.71H1851.08V1320ZM1999.06 1320V1255.06H2000.18V1320ZM2000.18 1320V1255.06H2001.3V1320ZM2001.3 1320V1255.06H2002.42V1320ZM2002.42 1320V1255.06H2003.54V1320ZM2003.54 1320V1240.63H2004.66V1320ZM2004.66 1320V1255.06H2005.78V1320ZM2005.78 1320V1262.27H2006.91V1320ZM2006.91 1320V1269.49H2008.03V1320ZM2008.03 1320V1269.49H2009.15V1320ZM2009.15 1320V1262.27H2010.27V1320ZM2010.27 1320V1269.49H2011.39V1320ZM2011.39 1320V1269.49H2012.51V1320ZM2012.51 1320V1276.71H2013.63V1320ZM2013.63 1320V1276.71H2014.75V1320ZM2014.75 1320V1276.71H2015.87V1320ZM2015.87 1320V1269.49H2017V1320ZM2017 1320V1276.71H2018.12V1320ZM2018.12 1320V1283.92H2019.24V1320ZM2019.24 1320V1276.71H2020.36V1320ZM2020.36 1320V1276.71H2021.48V1320ZM2021.48 1320V1276.71H2022.6V1320ZM2022.6 1320V1269.49H2023.72V1320ZM2023.72 1320V1276.71H2024.84V1320ZM2024.84 1320V1276.71H2025.96V1320ZM2025.96 1320V1276.71H2027.08V1320ZM2027.08 1320V1276.71H2028.21V1320ZM2028.21 1320V1276.71H2029.33V1320ZM2029.33 1320V1276.71H2030.45V1320ZM2030.45 1320V1276.71H2031.57V1320ZM2031.57 1320V1276.71H2032.69V1320ZM2032.69 1320V1276.71H2033.81V1320ZM2033.81 1320V1276.71H2034.93V1320ZM2034.93 1320V1276.71H2036.05V1320ZM2036.05 1320V1276.71H2037.17V1320ZM2037.17 1320V1276.71H2038.3V1320ZM2038.3 1320V1276.71H2039.42V1320ZM2039.42 1320V1276.71H2040.54V1320ZM2040.54 1320V1276.71H2041.66V1320ZM2041.66 1320V1283.92H2042.78V1320ZM2042.78 1320V1276.71H2043.9V1320ZM2043.9 1320V1276.71H2045.02V1320ZM2045.02 1320V1276.71H2046.14V1320ZM2046.14 1320V1276.71H2047.26V1320ZM2047.26 1320V1276.71H2048.39V1320ZM2048.39 1320V1276.71H2049.51V1320ZM2049.51 1320V1276.71H2050.63V1320ZM2050.63 1320V1276.71H2051.75V1320ZM2051.75 1320V1276.71H2052.87V1320ZM2052.87 1320V1276.71H2053.99V1320ZM2053.99 1320V1276.71H2055.11V1320ZM2055.11 1320V1276.71H2056.23V1320ZM2056.23 1320V1276.71H2057.35V1320ZM2057.35 1320V1269.49H2058.48V1320ZM2058.48 1320V1276.71H2059.6V1320ZM2059.6 1320V1276.71H2060.72V1320ZM2060.72 1320V1276.71H2061.84V1320ZM2061.84 1320V1276.71H2062.96V1320ZM2062.96 1320V1276.71H2064.08V1320ZM2064.08 1320V1276.71H2065.2V1320ZM2065.2 1320V1276.71H2066.32V1320ZM2066.32 1320V1276.71H2067.44V1320ZM2067.44 1320V1276.71H2068.56V1320ZM2068.56 1320V1276.71H2069.69V1320ZM2069.69 1320V1276.71H2070.81V1320ZM2070.81 1320V1276.71H2071.93V1320ZM2071.93 1320V1276.71H2073.05V1320ZM2073.05 1320V1276.71H2074.17V1320ZM2074.17 1320V1276.71H2075.29V1320ZM2075.29 1320V1276.71H2076.41V1320ZM2076.41 1320V1276.71H2077.53V1320ZM2077.53 1320V1276.71H2078.65V1320ZM2078.65 1320V1276.71H2079.78V1320ZM2079.78 1320V1276.71H2080.9V1320ZM2080.9 1320V1276.71H2082.02V1320ZM2082.02 1320V1276.71H2083.14V1320ZM2083.14 1320V1276.71H2084.26V1320ZM2084.26 1320V1276.71H2085.38V1320ZM2085.38 1320V1276.71H2086.5V1320ZM2086.5 1320V1276.71H2087.62V1320ZM2087.62 1320V1276.71H2088.74V1320ZM2088.74 1320V1276.71H2089.87V1320ZM2089.87 1320V1269.49H2090.99V1320ZM2090.99 1320V1276.71H2092.11V1320ZM2092.11 1320V1276.71H2093.23V1320ZM2093.23 1320V1276.71H2094.35V1320ZM2094.35 1320V1276.71H2095.47V1320ZM2095.47 1320V1276.71H2096.59V1320ZM2096.59 1320V1276.71H2097.71V1320ZM2097.71 1320V1276.71H2098.83V1320ZM2098.83 1320V1276.71H2099.96V1320ZM2099.96 1320V1276.71H2101.08V1320ZM2101.08 1320V1262.27H2102.2V1320ZM2102.2 1320V1269.49H2103.32V1320ZM2103.32 1320V1269.49H2104.44V1320ZM2104.44 1320V1269.49H2105.56V1320ZM2105.56 1320V1269.49H2106.68V1320ZM2106.68 1320V1276.71H2107.8V1320ZM2107.8 1320V1276.71H2108.92V1320ZM2108.92 1320V1276.71H2110.04V1320ZM2110.04 1320V1276.71H2111.17V1320ZM2111.17 1320V1276.71H2112.29V1320ZM2112.29 1320V1276.71H2113.41V1320ZM2113.41 1320V1283.92H2114.53V1320ZM2114.53 1320V1269.49H2115.65V1320ZM2115.65 1320V1276.71H2116.77V1320ZM2116.77 1320V1276.71H2117.89V1320ZM2117.89 1320V1276.71H2119.01V1320ZM2119.01 1320V1276.71H2120.13V1320ZM2120.13 1320V1276.71H2121.26V1320ZM2121.26 1320V1276.71H2122.38V1320ZM2122.38 1320V1276.71H2123.5V1320ZM2123.5 1320V1276.71H2124.62V1320ZM2124.62 1320V1276.71H2125.74V1320ZM2125.74 1320V1276.71H2126.86V1320ZM2126.86 1320V1276.71H2127.98V1320ZM2127.98 1320V1276.71H2129.1V1320ZM2129.1 1320V1276.71H2130.22V1320ZM2130.22 1320V1276.71H2131.35V1320ZM2131.35 1320V1276.71H2132.47V1320ZM2132.47 1320V1276.71H2133.59V1320ZM2133.59 1320V1276.71H2134.71V1320ZM2134.71 1320V1276.71H2135.83V1320ZM2135.83 1320V1276.71H2136.95V1320ZM2136.95 1320V1276.71H2138.07V1320ZM2138.07 1320V1276.71H2139.19V1320ZM2139.19 1320V1276.71H2140.31V1320ZM2140.31 1320V1276.71H2141.44V1320ZM2141.44 1320V1276.71H2142.56V1320ZM2142.56 1320V1276.71H2143.68V1320ZM2143.68 1320V1276.71H2144.8V1320ZM2144.8 1320V1276.71H2145.92V1320ZM2145.92 1320V1276.71H2147.04V1320ZM2147.04 1320V1276.71H2148.16V1320ZM2148.16 1320V1276.71H2149.28V1320ZM2149.28 1320V1269.49H2150.4V1320ZM2150.4 1320V1283.92H2151.52V1320ZM2151.52 1320V1276.71H2152.65V1320ZM2152.65 1320V1269.49H2153.77V1320ZM2153.77 1320V1276.71H2154.89V1320ZM2154.89 1320V1276.71H2156.01V1320ZM2156.01 1320V1276.71H2157.13V1320ZM2157.13 1320V1276.71H2158.25V1320ZM2158.25 1320V1276.71H2159.37V1320ZM2159.37 1320V1276.71H2160.49V1320ZM2160.49 1320V1276.71H2161.61V1320ZM2161.61 1320V1276.71H2162.74V1320ZM2162.74 1320V1276.71H2163.86V1320ZM2163.86 1320V1276.71H2164.98V1320ZM2164.98 1320V1276.71H2166.1V1320ZM2166.1 1320V1276.71H2167.22V1320ZM2167.22 1320V1283.92H2168.34V1320ZM2168.34 1320V1276.71H2169.46V1320ZM2169.46 1320V1276.71H2170.58V1320ZM2170.58 1320V1276.71H2171.7V1320ZM2171.7 1320V1283.92H2172.83V1320ZM2172.83 1320V1276.71H2173.95V1320ZM2173.95 1320V1276.71H2175.07V1320ZM2175.07 1320V1276.71H2176.19V1320ZM2176.19 1320V1276.71H2177.31V1320ZM2177.31 1320V1283.92H2178.43V1320ZM2178.43 1320V1276.71H2179.55V1320ZM2179.55 1320V1276.71H2180.67V1320ZM2180.67 1320V1283.92H2181.79V1320ZM2181.79 1320V1276.71H2182.92V1320ZM2182.92 1320V1276.71H2184.04V1320ZM2184.04 1320V1276.71H2185.16V1320ZM2185.16 1320V1283.92H2186.28V1320ZM2186.28 1320V1276.71H2187.4V1320ZM2187.4 1320V1276.71H2188.52V1320ZM2188.52 1320V1276.71H2189.64V1320ZM2189.64 1320V1276.71H2190.76V1320ZM2190.76 1320V1283.92H2191.88V1320ZM2191.88 1320V1276.71H2193V1320ZM2193 1320V1276.71H2194.13V1320ZM2194.13 1320V1276.71H2195.25V1320ZM2195.25 1320V1276.71H2196.37V1320ZM2196.37 1320V1276.71H2197.49V1320ZM2197.49 1320V1276.71H2198.61V1320ZM2198.61 1320V1276.71H2199.73V1320ZM2199.73 1320V1276.71H2200.85V1320ZM2200.85 1320V1276.71H2201.97V1320ZM2201.97 1320V1283.92H2203.09V1320ZM2203.09 1320V1276.71H2204.22V1320ZM2204.22 1320V1276.71H2205.34V1320ZM2205.34 1320V1276.71H2206.46V1320ZM2206.46 1320V1283.92H2207.58V1320ZM2207.58 1320V1276.71H2208.7V1320ZM2208.7 1320V1276.71H2209.82V1320ZM2209.82 1320V1283.92H2210.94V1320ZM2210.94 1320V1276.71H2212.06V1320ZM2212.06 1320V1276.71H2213.18V1320ZM2213.18 1320V1276.71H2214.31V1320ZM2214.31 1320V1276.71H2215.43V1320ZM2215.43 1320V1276.71H2216.55V1320ZM2216.55 1320V1283.92H2217.67V1320ZM2217.67 1320V1276.71H2218.79V1320ZM2218.79 1320V1276.71H2219.91V1320ZM2219.91 1320V1276.71H2221.03V1320ZM2221.03 1320V1276.71H2222.15V1320ZM2222.15 1320V1276.71H2223.27V1320ZM2223.27 1320V1276.71H2224.4V1320ZM2224.4 1320V1276.71H2225.52V1320ZM2225.52 1320V1283.92H2226.64V1320ZM2226.64 1320V1276.71H2227.76V1320ZM2227.76 1320V1276.71H2228.88V1320ZM2228.88 1320V1283.92H2230V1320ZM2230 1320V1276.71H2231.12V1320ZM2231.12 1320V1276.71H2232.24V1320ZM2232.24 1320V1283.92H2233.36V1320ZM2233.36 1320V1269.49H2234.48V1320ZM2234.48 1320V1276.71H2235.61V1320ZM2235.61 1320V1283.92H2236.73V1320ZM2236.73 1320V1276.71H2237.85V1320ZM2237.85 1320V1283.92H2238.97V1320ZM2238.97 1320V1276.71H2240.09V1320ZM2240.09 1320V1283.92H2241.21V1320ZM2241.21 1320V1276.71H2242.33V1320ZM2242.33 1320V1283.92H2243.45V1320ZM2243.45 1320V1283.92H2244.57V1320ZM2244.57 1320V1276.71H2245.7V1320ZM2245.7 1320V1283.92H2246.82V1320ZM2246.82 1320V1276.71H2247.94V1320ZM2247.94 1320V1283.92H2249.06V1320ZM2249.06 1320V1283.92H2250.18V1320ZM2250.18 1320V1276.71H2251.3V1320ZM2251.3 1320V1291.14H2252.42V1320ZM2252.42 1320V1276.71H2253.54V1320ZM2253.54 1320V1283.92H2254.66V1320ZM2254.66 1320V1291.14H2255.79V1320ZM2255.79 1320V1283.92H2256.91V1320ZM2256.91 1320V1283.92H2258.03V1320ZM2258.03 1320V1291.14H2259.15V1320ZM2259.15 1320V1283.92H2260.27V1320ZM2260.27 1320V1283.92H2261.39V1320ZM2261.39 1320V1291.14H2262.51V1320ZM2262.51 1320V1283.92H2263.63V1320ZM2263.63 1320V1291.14H2264.75V1320ZM2264.75 1320V1283.92H2265.88V1320ZM2265.88 1320V1291.14H2267V1320ZM2267 1320V1283.92H2268.12V1320ZM2268.12 1320V1291.14H2269.24V1320ZM2269.24 1320V1283.92H2270.36V1320ZM2270.36 1320V1291.14H2271.48V1320ZM2271.48 1320V1283.92H2272.6V1320ZM2272.6 1320V1283.92H2273.72V1320ZM2273.72 1320V1283.92H2274.84V1320ZM2274.84 1320V1269.49H2275.96V1320ZM2275.96 1320V1283.92H2277.09V1320ZM2277.09 1320V1291.14H2278.21V1320ZM2278.21 1320V1283.92H2279.33V1320ZM2279.33 1320V1291.14H2280.45V1320ZM2280.45 1320V1298.35H2281.57V1320ZM2281.57 1320V1283.92H2282.69V1320ZM2282.69 1320V1291.14H2283.81V1320ZM2283.81 1320V1298.35H2284.93V1320ZM2284.93 1320V1291.14H2286.05V1320ZM2286.05 1320V1291.14H2287.18V1320ZM2287.18 1320V1291.14H2288.3V1320ZM2288.3 1320V1291.14H2289.42V1320ZM2289.42 1320V1291.14H2290.54V1320ZM2290.54 1320V1291.14H2291.66V1320ZM2291.66 1320V1291.14H2292.78V1320ZM2292.78 1320V1291.14H2293.9V1320ZM2293.9 1320V1291.14H2295.02V1320ZM2295.02 1320V1291.14H2296.14V1320ZM2296.14 1320V1291.14H2297.27V1320ZM2297.27 1320V1283.92H2298.39V1320ZM2298.39 1320V1291.14H2299.51V1320ZM2299.51 1320V1291.14H2300.63V1320ZM2300.63 1320V1291.14H2301.75V1320ZM2301.75 1320V1283.92H2302.87V1320ZM2302.87 1320V1291.14H2303.99V1320ZM2303.99 1320V1291.14H2305.11V1320ZM2305.11 1320V1291.14H2306.23V1320ZM2306.23 1320V1291.14H2307.36V1320ZM2307.36 1320V1291.14H2308.48V1320ZM2308.48 1320V1291.14H2309.6V1320ZM2309.6 1320V1291.14H2310.72V1320ZM2310.72 1320V1291.14H2311.84V1320ZM2311.84 1320V1291.14H2312.96V1320ZM2312.96 1320V1283.92H2314.08V1320ZM2314.08 1320V1291.14H2315.2V1320ZM2315.2 1320V1283.92H2316.32V1320ZM2316.32 1320V1283.92H2317.44V1320ZM2317.44 1320V1283.92H2318.57V1320ZM2318.57 1320V1291.14H2319.69V1320ZM2319.69 1320V1283.92H2320.81V1320ZM2320.81 1320V1283.92H2321.93V1320ZM2321.93 1320V1283.92H2323.05V1320ZM2323.05 1320V1283.92H2324.17V1320ZM2324.17 1320V1283.92H2325.29V1320ZM2325.29 1320V1291.14H2326.41V1320ZM2326.41 1320V1283.92H2327.53V1320ZM2327.53 1320V1276.71H2328.66V1320ZM2328.66 1320V1291.14H2329.78V1320ZM2329.78 1320V1276.71H2330.9V1320ZM2330.9 1320V1283.92H2332.02V1320ZM2332.02 1320V1283.92H2333.14V1320ZM2333.14 1320V1283.92H2334.26V1320ZM2334.26 1320V1283.92H2335.38V1320ZM2335.38 1320V1276.71H2336.5V1320ZM2336.5 1320V1283.92H2337.62V1320ZM2337.62 1320V1283.92H2338.75V1320ZM2338.75 1320V1276.71H2339.87V1320ZM2339.87 1320V1283.92H2340.99V1320ZM2340.99 1320V1283.92H2342.11V1320ZM2342.11 1320V1276.71H2343.23V1320ZM2343.23 1320V1283.92H2344.35V1320ZM2344.35 1320V1276.71H2345.47V1320ZM2345.47 1320V1283.92H2346.59V1320ZM2346.59 1320V1283.92H2347.71V1320ZM2347.71 1320V1276.71H2348.84V1320ZM2348.84 1320V1283.92H2349.96V1320ZM2349.96 1320V1276.71H2351.08V1320ZM2351.08 1320V1291.14H2352.2V1320ZM2352.2 1320V1276.71H2353.32V1320ZM2353.32 1320V1283.92H2354.44V1320ZM2354.44 1320V1269.49H2355.56V1320ZM2355.56 1320V1291.14H2356.68V1320ZM2356.68 1320V1276.71H2357.8V1320ZM2357.8 1320V1283.92H2358.92V1320ZM2358.92 1320V1276.71H2360.05V1320ZM2360.05 1320V1283.92H2361.17V1320ZM2361.17 1320V1283.92H2362.29V1320ZM2362.29 1320V1276.71H2363.41V1320ZM2363.41 1320V1283.92H2364.53V1320ZM2364.53 1320V1283.92H2365.65V1320ZM2365.65 1320V1283.92H2366.77V1320ZM2366.77 1320V1276.71H2367.89V1320ZM2367.89 1320V1283.92H2369.01V1320ZM2369.01 1320V1283.92H2370.14V1320ZM2370.14 1320V1283.92H2371.26V1320ZM2371.26 1320V1276.71H2372.38V1320ZM2372.38 1320V1283.92H2373.5V1320ZM2373.5 1320V1283.92H2374.62V1320ZM2374.62 1320V1283.92H2375.74V1320ZM2375.74 1320V1276.71H2376.86V1320ZM2376.86 1320V1283.92H2377.98V1320ZM2377.98 1320V1276.71H2379.1V1320ZM2379.1 1320V1283.92H2380.23V1320ZM2380.23 1320V1283.92H2381.35V1320ZM2381.35 1320V1283.92H2382.47V1320ZM2382.47 1320V1276.71H2383.59V1320ZM2383.59 1320V1283.92H2384.71V1320ZM2384.71 1320V1283.92H2385.83V1320ZM2385.83 1320V1283.92H2386.95V1320ZM2386.95 1320V1276.71H2388.07V1320ZM2388.07 1320V1283.92H2389.19V1320ZM2389.19 1320V1283.92H2390.32V1320ZM2390.32 1320V1283.92H2391.44V1320ZM2391.44 1320V1276.71H2392.56V1320ZM2392.56 1320V1283.92H2393.68V1320ZM2393.68 1320V1283.92H2394.8V1320ZM2394.8 1320V1276.71H2395.92V1320ZM2395.92 1320V1283.92H2397.04V1320ZM2397.04 1320V1283.92H2398.16V1320ZM2398.16 1320V1283.92H2399.28V1320ZM2399.28 1320V1269.49H2400.4V1320ZM2400.4 1320V1283.92H2401.53V1320ZM2401.53 1320V1283.92H2402.65V1320ZM2402.65 1320V1283.92H2403.77V1320ZM2403.77 1320V1283.92H2404.89V1320ZM2404.89 1320V1276.71H2406.01V1320ZM2406.01 1320V1283.92H2407.13V1320ZM2407.13 1320V1283.92H2408.25V1320ZM2408.25 1320V1283.92H2409.37V1320ZM2409.37 1320V1283.92H2410.49V1320ZM2410.49 1320V1283.92H2411.62V1320ZM2411.62 1320V1276.71H2412.74V1320ZM2412.74 1320V1283.92H2413.86V1320ZM2413.86 1320V1276.71H2414.98V1320Z"/>
<path fill="#269373" d="M559.37 1320V1269.49H560.93V1320ZM560.49 1320V1276.71H562.05V1320ZM561.61 1320V1276.71H563.17V1320ZM562.73 1320V1276.71H564.29V1320ZM563.85 1320V1276.71H565.41V1320ZM564.97 1320V1276.71H566.54V1320ZM566.1 1320V1269.49H567.66V1320ZM567.22 1320V1262.27H568.78V1320ZM568.34 1320V1276.71H569.9V1320ZM569.46 1320V1276.71H571.02V1320ZM570.58 1320V1276.71H572.14V1320ZM571.7 1320V1269.49H573.26V1320ZM572.82 1320V1269.49H574.38V1320ZM573.94 1320V1269.49H575.5V1320ZM575.06 1320V1197.33H576.63V1320ZM576.19 1320V1139.61H577.75V1320ZM577.31 1320V1031.37H578.87V1320ZM578.43 1320V1031.37H579.99V1320ZM579.55 1320V1067.45H581.11V1320ZM580.67 1320V1053.02H582.23V1320ZM581.79 1320V1053.02H583.35V1320ZM582.91 1320V1053.02H584.47V1320ZM584.03 1320V1053.02H585.59V1320ZM585.15 1320V1031.37H586.72V1320ZM586.28 1320V1031.37H587.84V1320ZM587.4 1320V980.86H588.96V1320ZM588.52 1320V1074.67H590.08V1320ZM589.64 1320V1074.67H591.2V1320ZM590.76 1320V1125.18H592.32V1320ZM591.88 1320V1204.55H593.44V1320ZM593 1320V1139.61H594.56V1320ZM594.12 1320V1139.61H595.68V1320ZM595.24 1320V1139.61H596.8V1320ZM596.36 1320V1081.88H597.93V1320ZM597.49 1320V1081.88H599.05V1320ZM598.61 1320V1190.12H600.17V1320ZM599.73 1320V1182.9H601.29V1320ZM600.85 1320V1154.04H602.41V1320ZM601.97 1320V1038.59H603.53V1320ZM603.09 1320V1053.02H604.65V1320ZM604.21 1320V1053.02H605.77V1320ZM605.33 1320V1009.72H606.89V1320ZM606.45 1320V1045.8H608.02V1320ZM607.58 1320V1045.8H609.14V1320ZM608.7 1320V1060.23H610.26V1320ZM609.82 1320V1060.23H611.38V1320ZM610.94 1320V952H612.5V1320ZM612.06 1320V1182.9H613.62V1320ZM613.18 1320V1182.9H614.74V1320ZM614.3 1320V1218.98H615.86V1320ZM615.42 1320V1067.45H616.98V1320ZM616.54 1320V1067.45H618.11V1320ZM617.67 1320V1089.1H619.23V1320ZM618.79 1320V1211.76H620.35V1320ZM619.91 1320V1218.98H621.47V1320ZM621.03 1320V1218.98H622.59V1320ZM622.15 1320V1218.98H623.71V1320ZM623.27 1320V1226.2H624.83V1320ZM624.39 1320V1218.98H625.95V1320ZM625.51 1320V1233.41H627.07V1320ZM626.63 1320V1226.2H628.2V1320ZM627.76 1320V1168.47H629.32V1320ZM628.88 1320V1233.41H630.44V1320ZM630 1320V1255.06H631.56V1320ZM631.12 1320V1233.41H632.68V1320ZM632.24 1320V1233.41H633.8V1320ZM633.36 1320V1233.41H634.92V1320ZM634.48 1320V1240.63H636.04V1320ZM635.6 1320V1240.63H637.16V1320ZM636.72 1320V1233.41H638.28V1320ZM637.84 1320V1233.41H639.41V1320ZM638.97 1320V1240.63H640.53V1320ZM640.09 1320V1240.63H641.65V1320ZM641.21 1320V1218.98H642.77V1320ZM642.33 1320V1247.84H643.89V1320ZM643.45 1320V1226.2H645.01V1320ZM644.57 1320V1074.67H646.13V1320ZM645.69 1320V1074.67H647.25V1320ZM646.81 1320V966.43H648.37V1320ZM647.93 1320V1226.2H649.5V1320ZM649.06 1320V1233.41H650.62V1320ZM650.18 1320V1240.63H651.74V1320ZM651.3 1320V1233.41H652.86V1320ZM652.42 1320V1240.63H653.98V1320ZM653.54 1320V1262.27H655.1V1320ZM654.66 1320V1117.96H656.22V1320ZM655.78 1320V1031.37H657.34V1320ZM656.9 1320V1211.76H658.46V1320ZM658.02 1320V1211.76H659.59V1320ZM659.15 1320V1226.2H660.71V1320ZM660.27 1320V1226.2H661.83V1320ZM661.39 1320V1240.63H662.95V1320ZM662.51 1320V1240.63H664.07V1320ZM663.63 1320V1233.41H665.19V1320ZM664.75 1320V1233.41H666.31V1320ZM665.87 1320V1154.04H667.43V1320ZM666.99 1320V1053.02H668.55V1320ZM668.11 1320V1117.96H669.68V1320ZM669.24 1320V1117.96H670.8V1320ZM670.36 1320V1211.76H671.92V1320ZM671.48 1320V1255.06H673.04V1320ZM672.6 1320V1247.84H674.16V1320ZM673.72 1320V1240.63H675.28V1320ZM674.84 1320V1262.27H676.4V1320ZM675.96 1320V1247.84H677.52V1320ZM677.08 1320V1117.96H678.64V1320ZM678.2 1320V1204.55H679.76V1320ZM679.32 1320V1204.55H680.89V1320ZM680.45 1320V1240.63H682.01V1320ZM681.57 1320V1211.76H683.13V1320ZM682.69 1320V1226.2H684.25V1320ZM683.81 1320V1276.71H685.37V1320ZM684.93 1320V1197.33H686.49V1320ZM686.05 1320V1204.55H687.61V1320ZM687.17 1320V1168.47H688.73V1320ZM688.29 1320V966.43H689.85V1320ZM689.41 1320V1117.96H690.98V1320ZM690.54 1320V1117.96H692.1V1320ZM691.66 1320V1218.98H693.22V1320ZM692.78 1320V1204.55H694.34V1320ZM693.9 1320V1218.98H695.46V1320ZM695.02 1320V1240.63H696.58V1320ZM696.14 1320V1247.84H697.7V1320ZM697.26 1320V1240.63H698.82V1320ZM698.38 1320V1247.84H699.94V1320ZM699.5 1320V1233.41H701.07V1320ZM700.63 1320V1276.71H702.19V1320ZM701.75 1320V1276.71H703.31V1320ZM702.87 1320V1276.71H704.43V1320ZM703.99 1320V1276.71H705.55V1320ZM705.11 1320V1276.71H706.67V1320ZM706.23 1320V1276.71H707.79V1320ZM882.24 1320V1276.71H883.8V1320ZM883.36 1320V1276.71H884.92V1320ZM884.48 1320V1276.71H886.04V1320ZM885.6 1320V1283.92H887.17V1320ZM886.73 1320V1283.92H888.29V1320ZM887.85 1320V1283.92H889.41V1320ZM888.97 1320V1283.92H890.53V1320ZM890.09 1320V1283.92H891.65V1320ZM891.21 1320V1276.71H892.77V1320ZM892.33 1320V1276.71H893.89V1320ZM893.45 1320V1276.71H895.01V1320ZM894.57 1320V1276.71H896.13V1320ZM895.69 1320V1276.71H897.25V1320ZM896.81 1320V1276.71H898.38V1320ZM897.94 1320V1276.71H899.5V1320ZM899.06 1320V1255.06H900.62V1320ZM900.18 1320V1154.04H901.74V1320ZM901.3 1320V1233.41H902.86V1320ZM902.42 1320V1218.98H903.98V1320ZM903.54 1320V1154.04H905.1V1320ZM904.66 1320V1197.33H906.22V1320ZM905.78 1320V1197.33H907.34V1320ZM906.9 1320V973.65H908.47V1320ZM908.03 1320V952H909.59V1320ZM909.15 1320V952H910.71V1320ZM910.27 1320V1125.18H911.83V1320ZM911.39 1320V1031.37H912.95V1320ZM912.51 1320V1031.37H914.07V1320ZM913.63 1320V1182.9H915.19V1320ZM914.75 1320V1182.9H916.31V1320ZM915.87 1320V1182.9H917.43V1320ZM916.99 1320V1168.47H918.56V1320ZM918.12 1320V1247.84H919.68V1320ZM919.24 1320V1247.84H920.8V1320ZM920.36 1320V1269.49H921.92V1320ZM921.48 1320V1255.06H923.04V1320ZM922.6 1320V1233.41H924.16V1320ZM923.72 1320V1096.31H925.28V1320ZM924.84 1320V1211.76H926.4V1320ZM925.96 1320V1132.39H927.52V1320ZM927.08 1320V1132.39H928.65V1320ZM928.21 1320V1197.33H929.77V1320ZM929.33 1320V1197.33H930.89V1320ZM930.45 1320V1060.23H932.01V1320ZM931.57 1320V1089.1H933.13V1320ZM932.69 1320V1182.9H934.25V1320ZM933.81 1320V1060.23H935.37V1320ZM934.93 1320V1197.33H936.49V1320ZM936.05 1320V1247.84H937.61V1320ZM937.17 1320V1255.06H938.73V1320ZM938.29 1320V1045.8H939.86V1320ZM939.42 1320V1045.8H940.98V1320ZM940.54 1320V1139.61H942.1V1320ZM941.66 1320V1139.61H943.22V1320ZM942.78 1320V1211.76H944.34V1320ZM943.9 1320V1262.27H945.46V1320ZM945.02 1320V1262.27H946.58V1320ZM946.14 1320V1240.63H947.7V1320ZM947.26 1320V1081.88H948.82V1320ZM948.38 1320V1067.45H949.95V1320ZM949.51 1320V1067.45H951.07V1320ZM950.63 1320V1024.16H952.19V1320ZM951.75 1320V1190.12H953.31V1320ZM952.87 1320V1154.04H954.43V1320ZM953.99 1320V1139.61H955.55V1320ZM955.11 1320V1161.25H956.67V1320ZM956.23 1320V1211.76H957.79V1320ZM957.35 1320V1233.41H958.91V1320ZM958.47 1320V1211.76H960.04V1320ZM959.6 1320V1240.63H961.16V1320ZM960.72 1320V1226.2H962.28V1320ZM961.84 1320V1233.41H963.4V1320ZM962.96 1320V1233.41H964.52V1320ZM964.08 1320V1240.63H965.64V1320ZM965.2 1320V1233.41H966.76V1320ZM966.32 1320V1255.06H967.88V1320ZM967.44 1320V1247.84H969V1320ZM968.56 1320V1233.41H970.13V1320ZM969.69 1320V1240.63H971.25V1320ZM970.81 1320V1218.98H972.37V1320ZM971.93 1320V1096.31H973.49V1320ZM973.05 1320V1132.39H974.61V1320ZM974.17 1320V1024.16H975.73V1320ZM975.29 1320V1204.55H976.85V1320ZM976.41 1320V1233.41H977.97V1320ZM977.53 1320V1247.84H979.09V1320ZM978.65 1320V1233.41H980.21V1320ZM979.77 1320V1060.23H981.34V1320ZM980.9 1320V1060.23H982.46V1320ZM982.02 1320V1204.55H983.58V1320ZM983.14 1320V1204.55H984.7V1320ZM984.26 1320V1247.84H985.82V1320ZM985.38 1320V1175.69H986.94V1320ZM986.5 1320V1175.69H988.06V1320ZM987.62 1320V1233.41H989.18V1320ZM988.74 1320V1255.06H990.3V1320ZM989.86 1320V1247.84H991.43V1320ZM990.99 1320V1161.25H992.55V1320ZM992.11 1320V1074.67H993.67V1320ZM993.23 1320V1074.67H994.79V1320ZM994.35 1320V1233.41H995.91V1320ZM995.47 1320V1204.55H997.03V1320ZM996.59 1320V1204.55H998.15V1320ZM997.71 1320V1262.27H999.27V1320ZM998.83 1320V1146.82H1000.39V1320ZM999.95 1320V1154.04H1001.52V1320ZM1001.08 1320V1154.04H1002.64V1320ZM1002.2 1320V1089.1H1003.76V1320ZM1003.32 1320V1089.1H1004.88V1320ZM1004.44 1320V1240.63H1006V1320ZM1005.56 1320V1240.63H1007.12V1320ZM1006.68 1320V1255.06H1008.24V1320ZM1007.8 1320V1240.63H1009.36V1320ZM1008.92 1320V1240.63H1010.48V1320ZM1010.04 1320V1240.63H1011.61V1320ZM1011.17 1320V1247.84H1012.73V1320ZM1012.29 1320V1197.33H1013.85V1320ZM1013.41 1320V1204.55H1014.97V1320ZM1014.53 1320V1182.9H1016.09V1320ZM1015.65 1320V1211.76H1017.21V1320ZM1016.77 1320V1226.2H1018.33V1320ZM1017.89 1320V1211.76H1019.45V1320ZM1019.01 1320V1226.2H1020.57V1320ZM1020.13 1320V1197.33H1021.69V1320ZM1021.25 1320V1262.27H1022.82V1320ZM1022.38 1320V1276.71H1023.94V1320ZM1023.5 1320V1255.06H1025.06V1320ZM1024.62 1320V1240.63H1026.18V1320ZM1025.74 1320V1240.63H1027.3V1320ZM1026.86 1320V1262.27H1028.42V1320ZM1027.98 1320V1262.27H1029.54V1320ZM1029.1 1320V1262.27H1030.66V1320ZM1205.11 1320V1269.49H1206.67V1320ZM1206.23 1320V1276.71H1207.79V1320ZM1207.35 1320V1276.71H1208.92V1320ZM1208.48 1320V1276.71H1210.04V1320ZM1209.6 1320V1276.71H1211.16V1320ZM1210.72 1320V1276.71H1212.28V1320ZM1211.84 1320V1269.49H1213.4V1320ZM1212.96 1320V1276.71H1214.52V1320ZM1214.08 1320V1276.71H1215.64V1320ZM1215.2 1320V1276.71H1216.76V1320ZM1216.32 1320V1276.71H1217.88V1320ZM1217.44 1320V1276.71H1219.01V1320ZM1218.57 1320V1269.49H1220.13V1320ZM1219.69 1320V1269.49H1221.25V1320ZM1220.81 1320V1269.49H1222.37V1320ZM1221.93 1320V1197.33H1223.49V1320ZM1223.05 1320V1139.61H1224.61V1320ZM1224.17 1320V1139.61H1225.73V1320ZM1225.29 1320V1204.55H1226.85V1320ZM1226.41 1320V1096.31H1227.97V1320ZM1227.53 1320V1096.31H1229.09V1320ZM1228.65 1320V1190.12H1230.22V1320ZM1229.78 1320V1125.18H1231.34V1320ZM1230.9 1320V1161.25H1232.46V1320ZM1232.02 1320V1197.33H1233.58V1320ZM1233.14 1320V1197.33H1234.7V1320ZM1234.26 1320V1190.12H1235.82V1320ZM1235.38 1320V1190.12H1236.94V1320ZM1236.5 1320V1182.9H1238.06V1320ZM1237.62 1320V887.06H1239.18V1320ZM1238.74 1320V1197.33H1240.31V1320ZM1239.87 1320V1117.96H1241.43V1320ZM1240.99 1320V1117.96H1242.55V1320ZM1242.11 1320V1182.9H1243.67V1320ZM1243.23 1320V1175.69H1244.79V1320ZM1244.35 1320V1226.2H1245.91V1320ZM1245.47 1320V1226.2H1247.03V1320ZM1246.59 1320V1233.41H1248.15V1320ZM1247.71 1320V1247.84H1249.27V1320ZM1248.83 1320V1211.76H1250.4V1320ZM1249.96 1320V1081.88H1251.52V1320ZM1251.08 1320V1081.88H1252.64V1320ZM1252.2 1320V1089.1H1253.76V1320ZM1253.32 1320V1089.1H1254.88V1320ZM1254.44 1320V1125.18H1256V1320ZM1255.56 1320V1247.84H1257.12V1320ZM1256.68 1320V1096.31H1258.24V1320ZM1257.8 1320V1096.31H1259.36V1320ZM1258.92 1320V1240.63H1260.49V1320ZM1260.05 1320V1233.41H1261.61V1320ZM1261.17 1320V1240.63H1262.73V1320ZM1262.29 1320V1247.84H1263.85V1320ZM1263.41 1320V1161.25H1264.97V1320ZM1264.53 1320V1096.31H1266.09V1320ZM1265.65 1320V1240.63H1267.21V1320ZM1266.77 1320V1218.98H1268.33V1320ZM1267.89 1320V1240.63H1269.45V1320ZM1269.01 1320V1233.41H1270.57V1320ZM1270.13 1320V1074.67H1271.7V1320ZM1271.26 1320V1146.82H1272.82V1320ZM1272.38 1320V1146.82H1273.94V1320ZM1273.5 1320V1125.18H1275.06V1320ZM1274.62 1320V1125.18H1276.18V1320ZM1275.74 1320V1139.61H1277.3V1320ZM1276.86 1320V1096.31H1278.42V1320ZM1277.98 1320V1233.41H1279.54V1320ZM1279.1 1320V1262.27H1280.66V1320ZM1280.22 1320V1233.41H1281.79V1320ZM1281.35 1320V1247.84H1282.91V1320ZM1282.47 1320V1233.41H1284.03V1320ZM1283.59 1320V1247.84H1285.15V1320ZM1284.71 1320V1262.27H1286.27V1320ZM1285.83 1320V1211.76H1287.39V1320ZM1286.95 1320V1247.84H1288.51V1320ZM1288.07 1320V1247.84H1289.63V1320ZM1289.19 1320V1247.84H1290.75V1320ZM1290.31 1320V1247.84H1291.88V1320ZM1291.44 1320V1233.41H1293V1320ZM1292.56 1320V1247.84H1294.12V1320ZM1293.68 1320V1276.71H1295.24V1320ZM1294.8 1320V1154.04H1296.36V1320ZM1295.92 1320V1211.76H1297.48V1320ZM1297.04 1320V1197.33H1298.6V1320ZM1298.16 1320V1089.1H1299.72V1320ZM1299.28 1320V1045.8H1300.84V1320ZM1300.4 1320V1045.8H1301.97V1320ZM1301.53 1320V1053.02H1303.09V1320ZM1302.65 1320V1168.47H1304.21V1320ZM1303.77 1320V1168.47H1305.33V1320ZM1304.89 1320V1218.98H1306.45V1320ZM1306.01 1320V1226.2H1307.57V1320ZM1307.13 1320V1226.2H1308.69V1320ZM1308.25 1320V1226.2H1309.81V1320ZM1309.37 1320V1110.74H1310.93V1320ZM1310.49 1320V1053.02H1312.05V1320ZM1311.61 1320V1053.02H1313.18V1320ZM1312.74 1320V1060.23H1314.3V1320ZM1313.86 1320V1074.67H1315.42V1320ZM1314.98 1320V1074.67H1316.54V1320ZM1316.1 1320V1139.61H1317.66V1320ZM1317.22 1320V1139.61H1318.78V1320ZM1318.34 1320V1182.9H1319.9V1320ZM1319.46 1320V1038.59H1321.02V1320ZM1320.58 1320V1117.96H1322.14V1320ZM1321.7 1320V1074.67H1323.27V1320ZM1322.83 1320V1197.33H1324.39V1320ZM1323.95 1320V1262.27H1325.51V1320ZM1325.07 1320V1276.71H1326.63V1320ZM1326.19 1320V1276.71H1327.75V1320ZM1327.31 1320V1247.84H1328.87V1320ZM1328.43 1320V1226.2H1329.99V1320ZM1329.55 1320V1081.88H1331.11V1320ZM1330.67 1320V1247.84H1332.23V1320ZM1331.79 1320V1247.84H1333.36V1320ZM1332.92 1320V1240.63H1334.48V1320ZM1334.04 1320V1139.61H1335.6V1320ZM1335.16 1320V1045.8H1336.72V1320ZM1336.28 1320V1175.69H1337.84V1320ZM1337.4 1320V1139.61H1338.96V1320ZM1338.52 1320V1139.61H1340.08V1320ZM1339.64 1320V1161.25H1341.2V1320ZM1340.76 1320V1161.25H1342.32V1320ZM1341.88 1320V1269.49H1343.45V1320ZM1343.01 1320V1255.06H1344.57V1320ZM1344.13 1320V1233.41H1345.69V1320ZM1345.25 1320V1218.98H1346.81V1320ZM1346.37 1320V1175.69H1347.93V1320ZM1347.49 1320V1197.33H1349.05V1320ZM1348.61 1320V1211.76H1350.17V1320ZM1349.73 1320V1190.12H1351.29V1320ZM1350.85 1320V1190.12H1352.41V1320ZM1351.97 1320V1182.9H1353.53V1320ZM1527.98 1320V1276.71H1529.54V1320ZM1529.1 1320V1276.71H1530.67V1320ZM1530.23 1320V1276.71H1531.79V1320ZM1531.35 1320V1269.49H1532.91V1320ZM1532.47 1320V1276.71H1534.03V1320ZM1533.59 1320V1269.49H1535.15V1320ZM1534.71 1320V1276.71H1536.27V1320ZM1535.83 1320V1276.71H1537.39V1320ZM1536.95 1320V1269.49H1538.51V1320ZM1538.07 1320V1269.49H1539.63V1320ZM1539.19 1320V1269.49H1540.76V1320ZM1540.32 1320V1269.49H1541.88V1320ZM1541.44 1320V1276.71H1543V1320ZM1542.56 1320V1276.71H1544.12V1320ZM1543.68 1320V1276.71H1545.24V1320ZM1544.8 1320V1276.71H1546.36V1320ZM1545.92 1320V1154.04H1547.48V1320ZM1547.04 1320V1053.02H1548.6V1320ZM1548.16 1320V1146.82H1549.72V1320ZM1549.28 1320V1081.88H1550.85V1320ZM1550.41 1320V1074.67H1551.97V1320ZM1551.53 1320V1139.61H1553.09V1320ZM1552.65 1320V1031.37H1554.21V1320ZM1553.77 1320V908.7H1555.33V1320ZM1554.89 1320V1096.31H1556.45V1320ZM1556.01 1320V1096.31H1557.57V1320ZM1557.13 1320V1031.37H1558.69V1320ZM1558.25 1320V1233.41H1559.81V1320ZM1559.37 1320V1161.25H1560.93V1320ZM1560.49 1320V1204.55H1562.06V1320ZM1561.62 1320V1110.74H1563.18V1320ZM1562.74 1320V1197.33H1564.3V1320ZM1563.86 1320V1197.33H1565.42V1320ZM1564.98 1320V1218.98H1566.54V1320ZM1566.1 1320V1240.63H1567.66V1320ZM1567.22 1320V1247.84H1568.78V1320ZM1568.34 1320V1211.76H1569.9V1320ZM1569.46 1320V1211.76H1571.02V1320ZM1570.58 1320V1233.41H1572.15V1320ZM1571.71 1320V1233.41H1573.27V1320ZM1572.83 1320V1247.84H1574.39V1320ZM1573.95 1320V1247.84H1575.51V1320ZM1575.07 1320V1139.61H1576.63V1320ZM1576.19 1320V1197.33H1577.75V1320ZM1577.31 1320V1197.33H1578.87V1320ZM1578.43 1320V1240.63H1579.99V1320ZM1579.55 1320V1110.74H1581.11V1320ZM1580.67 1320V1255.06H1582.24V1320ZM1581.8 1320V1247.84H1583.36V1320ZM1582.92 1320V1240.63H1584.48V1320ZM1584.04 1320V1240.63H1585.6V1320ZM1585.16 1320V1226.2H1586.72V1320ZM1586.28 1320V1226.2H1587.84V1320ZM1587.4 1320V1218.98H1588.96V1320ZM1588.52 1320V1218.98H1590.08V1320ZM1589.64 1320V908.7H1591.2V1320ZM1590.76 1320V1060.23H1592.33V1320ZM1591.89 1320V1060.23H1593.45V1320ZM1593.01 1320V1211.76H1594.57V1320ZM1594.13 1320V1218.98H1595.69V1320ZM1595.25 1320V1218.98H1596.81V1320ZM1596.37 1320V1233.41H1597.93V1320ZM1597.49 1320V1247.84H1599.05V1320ZM1598.61 1320V1255.06H1600.17V1320ZM1599.73 1320V1269.49H1601.29V1320ZM1600.85 1320V1276.71H1602.41V1320ZM1601.97 1320V1262.27H1603.54V1320ZM1603.1 1320V1218.98H1604.66V1320ZM1604.22 1320V1247.84H1605.78V1320ZM1605.34 1320V1226.2H1606.9V1320ZM1606.46 1320V1247.84H1608.02V1320ZM1607.58 1320V1240.63H1609.14V1320ZM1608.7 1320V1233.41H1610.26V1320ZM1609.82 1320V1255.06H1611.38V1320ZM1610.94 1320V1233.41H1612.5V1320ZM1612.06 1320V1240.63H1613.63V1320ZM1613.19 1320V1233.41H1614.75V1320ZM1614.31 1320V1240.63H1615.87V1320ZM1615.43 1320V1168.47H1616.99V1320ZM1616.55 1320V1168.47H1618.11V1320ZM1617.67 1320V1081.88H1619.23V1320ZM1618.79 1320V1182.9H1620.35V1320ZM1619.91 1320V1053.02H1621.47V1320ZM1621.03 1320V1117.96H1622.59V1320ZM1622.15 1320V1117.96H1623.72V1320ZM1623.28 1320V1139.61H1624.84V1320ZM1624.4 1320V1139.61H1625.96V1320ZM1625.52 1320V1139.61H1627.08V1320ZM1626.64 1320V1139.61H1628.2V1320ZM1627.76 1320V1139.61H1629.32V1320ZM1628.88 1320V1240.63H1630.44V1320ZM1630 1320V1139.61H1631.56V1320ZM1631.12 1320V1139.61H1632.68V1320ZM1632.24 1320V1226.2H1633.81V1320ZM1633.37 1320V1197.33H1634.93V1320ZM1634.49 1320V1247.84H1636.05V1320ZM1635.61 1320V1233.41H1637.17V1320ZM1636.73 1320V1240.63H1638.29V1320ZM1637.85 1320V1233.41H1639.41V1320ZM1638.97 1320V1255.06H1640.53V1320ZM1640.09 1320V1053.02H1641.65V1320ZM1641.21 1320V1053.02H1642.77V1320ZM1642.33 1320V1038.59H1643.89V1320ZM1643.45 1320V1038.59H1645.02V1320ZM1644.58 1320V1060.23H1646.14V1320ZM1645.7 1320V1060.23H1647.26V1320ZM1646.82 1320V1009.72H1648.38V1320ZM1647.94 1320V1009.72H1649.5V1320ZM1649.06 1320V1060.23H1650.62V1320ZM1650.18 1320V1009.72H1651.74V1320ZM1651.3 1320V1233.41H1652.86V1320ZM1652.42 1320V1262.27H1653.98V1320ZM1653.54 1320V1233.41H1655.11V1320ZM1654.67 1320V1247.84H1656.23V1320ZM1655.79 1320V1240.63H1657.35V1320ZM1656.91 1320V1240.63H1658.47V1320ZM1658.03 1320V1247.84H1659.59V1320ZM1659.15 1320V1262.27H1660.71V1320ZM1660.27 1320V1175.69H1661.83V1320ZM1661.39 1320V1175.69H1662.95V1320ZM1662.51 1320V1204.55H1664.07V1320ZM1663.63 1320V1204.55H1665.2V1320ZM1664.76 1320V1190.12H1666.32V1320ZM1665.88 1320V1197.33H1667.44V1320ZM1667 1320V1211.76H1668.56V1320ZM1668.12 1320V1211.76H1669.68V1320ZM1669.24 1320V1247.84H1670.8V1320ZM1670.36 1320V1233.41H1671.92V1320ZM1671.48 1320V1240.63H1673.04V1320ZM1672.6 1320V1240.63H1674.16V1320ZM1673.72 1320V1262.27H1675.29V1320ZM1674.85 1320V1269.49H1676.41V1320ZM1850.86 1320V1276.71H1852.42V1320ZM1851.98 1320V1276.71H1853.54V1320ZM1853.1 1320V1276.71H1854.66V1320ZM1854.22 1320V1276.71H1855.78V1320ZM1855.34 1320V1276.71H1856.9V1320ZM1856.46 1320V1276.71H1858.02V1320ZM1857.58 1320V1276.71H1859.14V1320ZM1858.7 1320V1276.71H1860.26V1320ZM1859.82 1320V1276.71H1861.38V1320ZM1860.94 1320V1269.49H1862.51V1320ZM1862.07 1320V1269.49H1863.63V1320ZM1863.19 1320V1168.47H1864.75V1320ZM1864.31 1320V1045.8H1865.87V1320ZM1865.43 1320V1089.1H1866.99V1320ZM1866.55 1320V1009.72H1868.11V1320ZM1867.67 1320V1016.94H1869.23V1320ZM1868.79 1320V1016.94H1870.35V1320ZM1869.91 1320V1074.67H1871.47V1320ZM1871.03 1320V1002.51H1872.6V1320ZM1872.16 1320V1002.51H1873.72V1320ZM1873.28 1320V973.65H1874.84V1320ZM1874.4 1320V1154.04H1875.96V1320ZM1875.52 1320V1038.59H1877.08V1320ZM1876.64 1320V1218.98H1878.2V1320ZM1877.76 1320V1197.33H1879.32V1320ZM1878.88 1320V1197.33H1880.44V1320ZM1880 1320V1226.2H1881.56V1320ZM1881.12 1320V1218.98H1882.69V1320ZM1882.25 1320V1197.33H1883.81V1320ZM1883.37 1320V1045.8H1884.93V1320ZM1884.49 1320V1045.8H1886.05V1320ZM1885.61 1320V1016.94H1887.17V1320ZM1886.73 1320V1204.55H1888.29V1320ZM1887.85 1320V1204.55H1889.41V1320ZM1888.97 1320V1139.61H1890.53V1320ZM1890.09 1320V1045.8H1891.65V1320ZM1891.21 1320V1045.8H1892.78V1320ZM1892.34 1320V1276.71H1893.9V1320ZM1893.46 1320V1255.06H1895.02V1320ZM1894.58 1320V1233.41H1896.14V1320ZM1895.7 1320V1240.63H1897.26V1320ZM1896.82 1320V930.35H1898.38V1320ZM1897.94 1320V980.86H1899.5V1320ZM1899.06 1320V1197.33H1900.62V1320ZM1900.18 1320V944.78H1901.74V1320ZM1901.3 1320V944.78H1902.86V1320ZM1902.42 1320V1154.04H1903.99V1320ZM1903.55 1320V1154.04H1905.11V1320ZM1904.67 1320V1247.84H1906.23V1320ZM1905.79 1320V1168.47H1907.35V1320ZM1906.91 1320V1089.1H1908.47V1320ZM1908.03 1320V1139.61H1909.59V1320ZM1909.15 1320V1168.47H1910.71V1320ZM1910.27 1320V1168.47H1911.83V1320ZM1911.39 1320V1182.9H1912.95V1320ZM1912.51 1320V1175.69H1914.08V1320ZM1913.64 1320V1024.16H1915.2V1320ZM1914.76 1320V1024.16H1916.32V1320ZM1915.88 1320V1110.74H1917.44V1320ZM1917 1320V1276.71H1918.56V1320ZM1918.12 1320V1247.84H1919.68V1320ZM1919.24 1320V1255.06H1920.8V1320ZM1920.36 1320V1247.84H1921.92V1320ZM1921.48 1320V1255.06H1923.04V1320ZM1922.6 1320V1255.06H1924.17V1320ZM1923.73 1320V1255.06H1925.29V1320ZM1924.85 1320V980.86H1926.41V1320ZM1925.97 1320V980.86H1927.53V1320ZM1927.09 1320V1197.33H1928.65V1320ZM1928.21 1320V1197.33H1929.77V1320ZM1929.33 1320V1240.63H1930.89V1320ZM1930.45 1320V1240.63H1932.01V1320ZM1931.57 1320V1247.84H1933.13V1320ZM1932.69 1320V1247.84H1934.26V1320ZM1933.82 1320V1247.84H1935.38V1320ZM1934.94 1320V1247.84H1936.5V1320ZM1936.06 1320V1247.84H1937.62V1320ZM1937.18 1320V1255.06H1938.74V1320ZM1938.3 1320V1255.06H1939.86V1320ZM1939.42 1320V1255.06H1940.98V1320ZM1940.54 1320V1233.41H1942.1V1320ZM1941.66 1320V1233.41H1943.22V1320ZM1942.78 1320V1247.84H1944.34V1320ZM1943.9 1320V1247.84H1945.47V1320ZM1945.03 1320V1233.41H1946.59V1320ZM1946.15 1320V1255.06H1947.71V1320ZM1947.27 1320V1204.55H1948.83V1320ZM1948.39 1320V1154.04H1949.95V1320ZM1949.51 1320V1139.61H1951.07V1320ZM1950.63 1320V1110.74H1952.19V1320ZM1951.75 1320V1110.74H1953.31V1320ZM1952.87 1320V1110.74H1954.43V1320ZM1953.99 1320V1110.74H1955.56V1320ZM1955.12 1320V1110.74H1956.68V1320ZM1956.24 1320V1161.25H1957.8V1320ZM1957.36 1320V1240.63H1958.92V1320ZM1958.48 1320V1226.2H1960.04V1320ZM1959.6 1320V1161.25H1961.16V1320ZM1960.72 1320V1161.25H1962.28V1320ZM1961.84 1320V1139.61H1963.4V1320ZM1962.96 1320V1168.47H1964.52V1320ZM1964.08 1320V1240.63H1965.65V1320ZM1965.21 1320V1110.74H1966.77V1320ZM1966.33 1320V1110.74H1967.89V1320ZM1967.45 1320V1139.61H1969.01V1320ZM1968.57 1320V1139.61H1970.13V1320ZM1969.69 1320V1218.98H1971.25V1320ZM1970.81 1320V1218.98H1972.37V1320ZM1971.93 1320V1262.27H1973.49V1320ZM1973.05 1320V1218.98H1974.61V1320ZM1974.17 1320V1218.98H1975.74V1320ZM1975.3 1320V1226.2H1976.86V1320ZM1976.42 1320V1240.63H1977.98V1320ZM1977.54 1320V1262.27H1979.1V1320ZM1978.66 1320V1204.55H1980.22V1320ZM1979.78 1320V1233.41H1981.34V1320ZM1980.9 1320V1226.2H1982.46V1320ZM1982.02 1320V1197.33H1983.58V1320ZM1983.14 1320V1197.33H1984.7V1320ZM1984.26 1320V1240.63H1985.82V1320ZM1985.38 1320V1255.06H1986.95V1320ZM1986.51 1320V1247.84H1988.07V1320ZM1987.63 1320V1247.84H1989.19V1320ZM1988.75 1320V1247.84H1990.31V1320ZM1989.87 1320V1233.41H1991.43V1320ZM1990.99 1320V1233.41H1992.55V1320ZM1992.11 1320V1233.41H1993.67V1320ZM1993.23 1320V1247.84H1994.79V1320ZM1994.35 1320V1226.2H1995.91V1320ZM1995.47 1320V1226.2H1997.04V1320ZM1996.6 1320V1226.2H1998.16V1320ZM1997.72 1320V1233.41H1999.28V1320Z"/>
</g>
<rect x="154.1" y="814.4" width="2" height="507.2" fill="#6f6f6f"/>
<rect x="154.1" y="1320" width="2262.5" height="1.8" fill="#7a7a7a"/>
<rect x="144" y="1319.4" width="10.2" height="1.2" fill="#b4b4b4"/>
<text x="132.6" y="1327.4" font-size="20.6" text-anchor="end" fill="#444" textLength="11.6" lengthAdjust="spacingAndGlyphs" stroke="#444" stroke-width="0.35" >0</text>
<rect x="144" y="1247.24" width="10.2" height="1.2" fill="#b4b4b4"/>
<text x="132.6" y="1255.24" font-size="20.6" text-anchor="end" fill="#444" textLength="24.4" lengthAdjust="spacingAndGlyphs" stroke="#444" stroke-width="0.35" >10</text>
<rect x="144" y="1175.09" width="10.2" height="1.2" fill="#b4b4b4"/>
<text x="132.6" y="1183.09" font-size="20.6" text-anchor="end" fill="#444" textLength="24.4" lengthAdjust="spacingAndGlyphs" stroke="#444" stroke-width="0.35" >20</text>
<rect x="144" y="1102.93" width="10.2" height="1.2" fill="#b4b4b4"/>
<text x="132.6" y="1110.93" font-size="20.6" text-anchor="end" fill="#444" textLength="24.4" lengthAdjust="spacingAndGlyphs" stroke="#444" stroke-width="0.35" >30</text>
<rect x="144" y="1030.77" width="10.2" height="1.2" fill="#b4b4b4"/>
<text x="132.6" y="1038.77" font-size="20.6" text-anchor="end" fill="#444" textLength="24.4" lengthAdjust="spacingAndGlyphs" stroke="#444" stroke-width="0.35" >40</text>
<rect x="144" y="958.61" width="10.2" height="1.2" fill="#b4b4b4"/>
<text x="132.6" y="966.61" font-size="20.6" text-anchor="end" fill="#444" textLength="24.4" lengthAdjust="spacingAndGlyphs" stroke="#444" stroke-width="0.35" >50</text>
<rect x="144" y="886.46" width="10.2" height="1.2" fill="#b4b4b4"/>
<text x="132.6" y="894.46" font-size="20.6" text-anchor="end" fill="#444" textLength="24.4" lengthAdjust="spacingAndGlyphs" stroke="#444" stroke-width="0.35" >60</text>
<rect x="144" y="814.3" width="10.2" height="1.2" fill="#b4b4b4"/>
<text x="132.6" y="822.3" font-size="20.6" text-anchor="end" fill="#444" textLength="24.4" lengthAdjust="spacingAndGlyphs" stroke="#444" stroke-width="0.35" >70</text>
<rect x="155.3" y="1321.8" width="1.4" height="10" fill="#c4c4c4"/>
<text x="155.7" y="1356.7" font-size="20.6" text-anchor="middle" fill="#111" textLength="77.5" lengthAdjust="spacingAndGlyphs" stroke="#111" stroke-width="0.35" >dim. 25</text>
<rect x="478.17" y="1321.8" width="1.4" height="10" fill="#c4c4c4"/>
<text x="478.57" y="1356.7" font-size="20.6" text-anchor="middle" fill="#111" textLength="70.2" lengthAdjust="spacingAndGlyphs" stroke="#111" stroke-width="0.35" >lun. 26</text>
<rect x="801.04" y="1321.8" width="1.4" height="10" fill="#c4c4c4"/>
<text x="801.44" y="1356.7" font-size="20.6" text-anchor="middle" fill="#111" textLength="79" lengthAdjust="spacingAndGlyphs" stroke="#111" stroke-width="0.35" >mar. 27</text>
<rect x="1123.91" y="1321.8" width="1.4" height="10" fill="#c4c4c4"/>
<text x="1124.31" y="1356.7" font-size="20.6" text-anchor="middle" fill="#111" textLength="79" lengthAdjust="spacingAndGlyphs" stroke="#111" stroke-width="0.35" >mer. 28</text>
<rect x="1446.79" y="1321.8" width="1.4" height="10" fill="#c4c4c4"/>
<text x="1447.19" y="1356.7" font-size="20.6" text-anchor="middle" fill="#111" textLength="73" lengthAdjust="spacingAndGlyphs" stroke="#111" stroke-width="0.35" >jeu. 29</text>
<rect x="1769.66" y="1321.8" width="1.4" height="10" fill="#c4c4c4"/>
<text x="1770.06" y="1356.7" font-size="20.6" text-anchor="middle" fill="#111" textLength="76.5" lengthAdjust="spacingAndGlyphs" stroke="#111" stroke-width="0.35" >ven. 30</text>
<rect x="2092.53" y="1321.8" width="1.4" height="10" fill="#c4c4c4"/>
<text x="2092.93" y="1356.7" font-size="20.6" text-anchor="middle" fill="#111" textLength="82" lengthAdjust="spacingAndGlyphs" stroke="#111" stroke-width="0.35" >sam. 31</text>
<text transform="translate(86.2 1067.3) rotate(-90)" font-size="23.2" text-anchor="middle" fill="#444" textLength="31" lengthAdjust="spacingAndGlyphs">kW</text>
<rect x="561.8" y="806" width="412.4" height="58.2" rx="9.5" fill="#fff" stroke="#808080" stroke-width="3.2"/>
<text x="777.6" y="846.7" font-size="29" text-anchor="middle" fill="#000" textLength="337.7" lengthAdjust="spacingAndGlyphs" stroke="#000" stroke-width="0.35" >Consommation: 1 598 kWh</text>
<rect x="1099.5" y="806" width="412.9" height="58.2" rx="9.5" fill="#fff" stroke="#808080" stroke-width="3.2"/>
<text x="1315.95" y="846.7" font-size="29" text-anchor="middle" fill="#000" textLength="191.6" lengthAdjust="spacingAndGlyphs" stroke="#000" stroke-width="0.35" >P Max :&#160; 60 kW</text>
<rect x="1609.3" y="806" width="413" height="58.2" rx="9.5" fill="#fff" stroke="#808080" stroke-width="3.2"/>
<text x="1826.35" y="846.7" font-size="29" text-anchor="middle" fill="#000" textLength="162.6" lengthAdjust="spacingAndGlyphs" stroke="#000" stroke-width="0.35" >P min : 3 kW</text>
<g id="g2e"><path d="M2322.4 1322.4H2437.8V1376.6Q2437.8 1380.2 2434 1380.2H2322.4Z" fill="#fff"/><g fill="none" stroke="#0a70b8" stroke-linecap="round" stroke-linejoin="round"><path d="M2361.16 1344.42A12.5 12.5 0 1 0 2361.44 1350.97H2349.8" stroke-width="5"/><path d="M2370.6 1350.7A6.6 6.6 0 1 1 2381.5 1350.6L2372.3 1360.4" stroke-width="4.8"/></g><path d="M2368.3 1363.2L2372.6 1358.4H2385.7V1363.2Z" fill="#0a70b8"/><path d="M2392.4 1324.5L2391.7 1334.5L2400 1338.5L2389.5 1363.2L2391 1340.9L2383.3 1338.1Z" fill="#ea5b27"/><path d="M2403.15 1339H2424.4L2418.9 1344.8H2400.8Z" fill="#f39220"/><path d="M2399.3 1348.2H2418.2L2413.2 1353.9H2396.9Z" fill="#f39220"/><path d="M2395.5 1357.3H2416.8L2411.5 1363.2H2392.9Z" fill="#f39220"/><text x="2393.6" y="1333.8" font-size="7.4" font-weight="bold" fill="#eb6435" textLength="30.5" lengthAdjust="spacingAndGlyphs">FRANCE</text><text x="2339.6" y="1368.2" font-size="3.7" fill="#3f8ccf" textLength="74.3" lengthAdjust="spacingAndGlyphs">Optimisation des ressources énergétiques</text></g>
</svg></body></html>
